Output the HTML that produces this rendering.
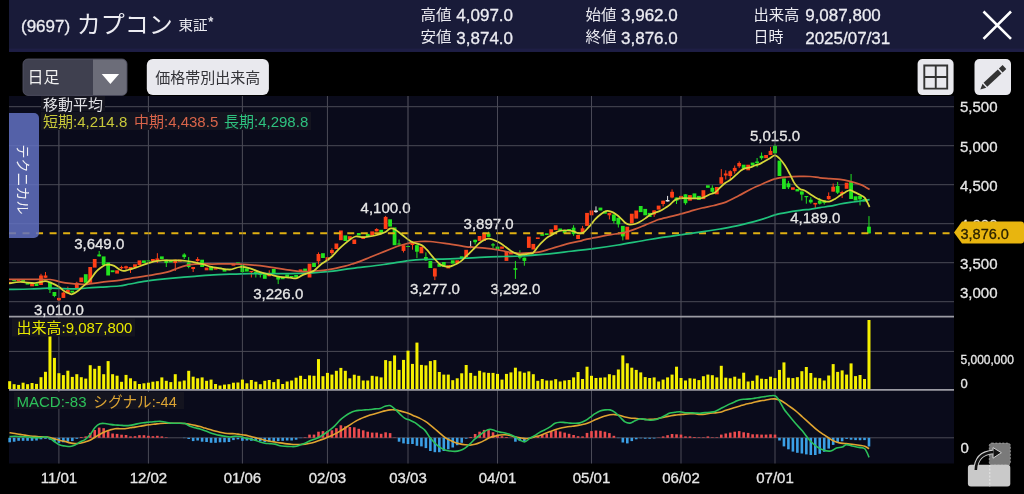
<!DOCTYPE html>
<html lang="ja"><head><meta charset="utf-8"><title>カプコン チャート</title>
<style>
*{margin:0;padding:0;box-sizing:border-box}
html,body{width:1024px;height:494px;overflow:hidden;background:#000}
body{position:relative;font-family:"Liberation Sans", "Noto Sans CJK JP", sans-serif;color:#e8e8ee}
</style></head>
<body>
<svg width="1024" height="494" viewBox="0 0 1024 494" style="position:absolute;left:0;top:0">
<rect x="9" y="96" width="945" height="367.5" fill="#0a0b1b"/>
<g stroke="#4a4a56" stroke-width="1">
<line x1="9" y1="106.7" x2="954" y2="106.7"/>
<line x1="9" y1="145.7" x2="954" y2="145.7"/>
<line x1="9" y1="184.7" x2="954" y2="184.7"/>
<line x1="9" y1="223.7" x2="954" y2="223.7"/>
<line x1="9" y1="262.7" x2="954" y2="262.7"/>
<line x1="9" y1="301.7" x2="954" y2="301.7"/>
<line x1="9" y1="351.4" x2="954" y2="351.4"/>
<line x1="9" y1="437.8" x2="954" y2="437.8"/>
<line x1="58.90" y1="96" x2="58.90" y2="463.5"/>
<line x1="148.41" y1="96" x2="148.41" y2="463.5"/>
<line x1="242.40" y1="96" x2="242.40" y2="463.5"/>
<line x1="327.44" y1="96" x2="327.44" y2="463.5"/>
<line x1="408.00" y1="96" x2="408.00" y2="463.5"/>
<line x1="497.51" y1="96" x2="497.51" y2="463.5"/>
<line x1="591.50" y1="96" x2="591.50" y2="463.5"/>
<line x1="681.01" y1="96" x2="681.01" y2="463.5"/>
<line x1="775.00" y1="96" x2="775.00" y2="463.5"/>
</g>
<line x1="9" y1="316.6" x2="954" y2="316.6" stroke="#9c9ca4" stroke-width="1.8"/>
<line x1="9" y1="389.8" x2="954" y2="389.8" stroke="#9c9ca4" stroke-width="1.8"/>
<defs><clipPath id="cp"><rect x="9" y="96" width="945" height="220"/></clipPath><clipPath id="cm"><rect x="9" y="391" width="945" height="72.5"/></clipPath></defs>
<rect x="8.17" y="381.20" width="3.0" height="7.80" fill="#f5f000"/>
<rect x="12.64" y="384.20" width="3.0" height="4.80" fill="#f5f000"/>
<rect x="17.12" y="384.90" width="3.0" height="4.10" fill="#f5f000"/>
<rect x="21.60" y="382.70" width="3.0" height="6.30" fill="#f5f000"/>
<rect x="26.07" y="384.20" width="3.0" height="4.80" fill="#f5f000"/>
<rect x="30.55" y="383.00" width="3.0" height="6.00" fill="#f5f000"/>
<rect x="35.02" y="383.90" width="3.0" height="5.10" fill="#f5f000"/>
<rect x="39.50" y="377.20" width="3.0" height="11.80" fill="#f5f000"/>
<rect x="43.97" y="371.80" width="3.0" height="17.20" fill="#f5f000"/>
<rect x="48.45" y="334.60" width="3.0" height="54.40" fill="#f5f000"/>
<rect x="52.92" y="357.90" width="3.0" height="31.10" fill="#f5f000"/>
<rect x="57.40" y="373.20" width="3.0" height="15.80" fill="#f5f000"/>
<rect x="61.88" y="375.10" width="3.0" height="13.90" fill="#f5f000"/>
<rect x="66.35" y="370.70" width="3.0" height="18.30" fill="#f5f000"/>
<rect x="70.83" y="376.90" width="3.0" height="12.10" fill="#f5f000"/>
<rect x="75.30" y="374.20" width="3.0" height="14.80" fill="#f5f000"/>
<rect x="79.78" y="377.20" width="3.0" height="11.80" fill="#f5f000"/>
<rect x="84.25" y="378.60" width="3.0" height="10.40" fill="#f5f000"/>
<rect x="88.73" y="365.20" width="3.0" height="23.80" fill="#f5f000"/>
<rect x="93.20" y="368.80" width="3.0" height="20.20" fill="#f5f000"/>
<rect x="97.68" y="365.90" width="3.0" height="23.10" fill="#f5f000"/>
<rect x="102.16" y="374.20" width="3.0" height="14.80" fill="#f5f000"/>
<rect x="106.63" y="361.10" width="3.0" height="27.90" fill="#f5f000"/>
<rect x="111.11" y="374.20" width="3.0" height="14.80" fill="#f5f000"/>
<rect x="115.58" y="375.70" width="3.0" height="13.30" fill="#f5f000"/>
<rect x="120.06" y="381.80" width="3.0" height="7.20" fill="#f5f000"/>
<rect x="124.53" y="374.90" width="3.0" height="14.10" fill="#f5f000"/>
<rect x="129.01" y="378.30" width="3.0" height="10.70" fill="#f5f000"/>
<rect x="133.49" y="381.20" width="3.0" height="7.80" fill="#f5f000"/>
<rect x="137.96" y="384.00" width="3.0" height="5.00" fill="#f5f000"/>
<rect x="142.44" y="383.30" width="3.0" height="5.70" fill="#f5f000"/>
<rect x="146.91" y="382.70" width="3.0" height="6.30" fill="#f5f000"/>
<rect x="151.39" y="381.70" width="3.0" height="7.30" fill="#f5f000"/>
<rect x="155.86" y="381.20" width="3.0" height="7.80" fill="#f5f000"/>
<rect x="160.34" y="377.40" width="3.0" height="11.60" fill="#f5f000"/>
<rect x="164.81" y="380.80" width="3.0" height="8.20" fill="#f5f000"/>
<rect x="169.29" y="382.10" width="3.0" height="6.90" fill="#f5f000"/>
<rect x="173.77" y="374.20" width="3.0" height="14.80" fill="#f5f000"/>
<rect x="178.24" y="381.50" width="3.0" height="7.50" fill="#f5f000"/>
<rect x="182.72" y="380.50" width="3.0" height="8.50" fill="#f5f000"/>
<rect x="187.19" y="370.80" width="3.0" height="18.20" fill="#f5f000"/>
<rect x="191.67" y="376.70" width="3.0" height="12.30" fill="#f5f000"/>
<rect x="196.14" y="378.30" width="3.0" height="10.70" fill="#f5f000"/>
<rect x="200.62" y="377.40" width="3.0" height="11.60" fill="#f5f000"/>
<rect x="205.09" y="380.80" width="3.0" height="8.20" fill="#f5f000"/>
<rect x="209.57" y="379.60" width="3.0" height="9.40" fill="#f5f000"/>
<rect x="214.05" y="384.00" width="3.0" height="5.00" fill="#f5f000"/>
<rect x="218.52" y="385.50" width="3.0" height="3.50" fill="#f5f000"/>
<rect x="223.00" y="384.60" width="3.0" height="4.40" fill="#f5f000"/>
<rect x="227.47" y="384.20" width="3.0" height="4.80" fill="#f5f000"/>
<rect x="231.95" y="382.70" width="3.0" height="6.30" fill="#f5f000"/>
<rect x="236.42" y="382.50" width="3.0" height="6.50" fill="#f5f000"/>
<rect x="240.90" y="379.60" width="3.0" height="9.40" fill="#f5f000"/>
<rect x="245.38" y="383.30" width="3.0" height="5.70" fill="#f5f000"/>
<rect x="249.85" y="380.00" width="3.0" height="9.00" fill="#f5f000"/>
<rect x="254.33" y="381.70" width="3.0" height="7.30" fill="#f5f000"/>
<rect x="258.80" y="384.20" width="3.0" height="4.80" fill="#f5f000"/>
<rect x="263.28" y="380.80" width="3.0" height="8.20" fill="#f5f000"/>
<rect x="267.75" y="380.00" width="3.0" height="9.00" fill="#f5f000"/>
<rect x="272.23" y="382.10" width="3.0" height="6.90" fill="#f5f000"/>
<rect x="276.70" y="379.20" width="3.0" height="9.80" fill="#f5f000"/>
<rect x="281.18" y="384.00" width="3.0" height="5.00" fill="#f5f000"/>
<rect x="285.66" y="381.50" width="3.0" height="7.50" fill="#f5f000"/>
<rect x="290.13" y="380.50" width="3.0" height="8.50" fill="#f5f000"/>
<rect x="294.61" y="377.70" width="3.0" height="11.30" fill="#f5f000"/>
<rect x="299.08" y="375.80" width="3.0" height="13.20" fill="#f5f000"/>
<rect x="303.56" y="379.00" width="3.0" height="10.00" fill="#f5f000"/>
<rect x="308.03" y="375.40" width="3.0" height="13.60" fill="#f5f000"/>
<rect x="312.51" y="375.80" width="3.0" height="13.20" fill="#f5f000"/>
<rect x="316.98" y="359.10" width="3.0" height="29.90" fill="#f5f000"/>
<rect x="321.46" y="376.20" width="3.0" height="12.80" fill="#f5f000"/>
<rect x="325.94" y="372.90" width="3.0" height="16.10" fill="#f5f000"/>
<rect x="330.41" y="374.60" width="3.0" height="14.40" fill="#f5f000"/>
<rect x="334.89" y="370.80" width="3.0" height="18.20" fill="#f5f000"/>
<rect x="339.36" y="367.90" width="3.0" height="21.10" fill="#f5f000"/>
<rect x="343.84" y="370.80" width="3.0" height="18.20" fill="#f5f000"/>
<rect x="348.31" y="378.30" width="3.0" height="10.70" fill="#f5f000"/>
<rect x="352.79" y="374.70" width="3.0" height="14.30" fill="#f5f000"/>
<rect x="357.27" y="375.80" width="3.0" height="13.20" fill="#f5f000"/>
<rect x="361.74" y="380.50" width="3.0" height="8.50" fill="#f5f000"/>
<rect x="366.22" y="380.50" width="3.0" height="8.50" fill="#f5f000"/>
<rect x="370.69" y="375.80" width="3.0" height="13.20" fill="#f5f000"/>
<rect x="375.17" y="376.40" width="3.0" height="12.60" fill="#f5f000"/>
<rect x="379.64" y="377.40" width="3.0" height="11.60" fill="#f5f000"/>
<rect x="384.12" y="360.10" width="3.0" height="28.90" fill="#f5f000"/>
<rect x="388.59" y="361.10" width="3.0" height="27.90" fill="#f5f000"/>
<rect x="393.07" y="355.40" width="3.0" height="33.60" fill="#f5f000"/>
<rect x="397.55" y="369.90" width="3.0" height="19.10" fill="#f5f000"/>
<rect x="402.02" y="359.90" width="3.0" height="29.10" fill="#f5f000"/>
<rect x="406.50" y="350.70" width="3.0" height="38.30" fill="#f5f000"/>
<rect x="410.97" y="363.90" width="3.0" height="25.10" fill="#f5f000"/>
<rect x="415.45" y="342.60" width="3.0" height="46.40" fill="#f5f000"/>
<rect x="419.92" y="364.90" width="3.0" height="24.10" fill="#f5f000"/>
<rect x="424.40" y="365.40" width="3.0" height="23.60" fill="#f5f000"/>
<rect x="428.87" y="361.10" width="3.0" height="27.90" fill="#f5f000"/>
<rect x="433.35" y="360.10" width="3.0" height="28.90" fill="#f5f000"/>
<rect x="437.83" y="372.00" width="3.0" height="17.00" fill="#f5f000"/>
<rect x="442.30" y="374.60" width="3.0" height="14.40" fill="#f5f000"/>
<rect x="446.78" y="374.60" width="3.0" height="14.40" fill="#f5f000"/>
<rect x="451.25" y="380.20" width="3.0" height="8.80" fill="#f5f000"/>
<rect x="455.73" y="378.30" width="3.0" height="10.70" fill="#f5f000"/>
<rect x="460.20" y="373.30" width="3.0" height="15.70" fill="#f5f000"/>
<rect x="464.68" y="365.00" width="3.0" height="24.00" fill="#f5f000"/>
<rect x="469.16" y="372.90" width="3.0" height="16.10" fill="#f5f000"/>
<rect x="473.63" y="375.80" width="3.0" height="13.20" fill="#f5f000"/>
<rect x="478.11" y="370.80" width="3.0" height="18.20" fill="#f5f000"/>
<rect x="482.58" y="372.40" width="3.0" height="16.60" fill="#f5f000"/>
<rect x="487.06" y="372.90" width="3.0" height="16.10" fill="#f5f000"/>
<rect x="491.53" y="372.90" width="3.0" height="16.10" fill="#f5f000"/>
<rect x="496.01" y="373.90" width="3.0" height="15.10" fill="#f5f000"/>
<rect x="500.48" y="379.60" width="3.0" height="9.40" fill="#f5f000"/>
<rect x="504.96" y="373.90" width="3.0" height="15.10" fill="#f5f000"/>
<rect x="509.44" y="372.40" width="3.0" height="16.60" fill="#f5f000"/>
<rect x="513.91" y="367.70" width="3.0" height="21.30" fill="#f5f000"/>
<rect x="518.39" y="371.40" width="3.0" height="17.60" fill="#f5f000"/>
<rect x="522.86" y="372.70" width="3.0" height="16.30" fill="#f5f000"/>
<rect x="527.34" y="371.40" width="3.0" height="17.60" fill="#f5f000"/>
<rect x="531.81" y="374.20" width="3.0" height="14.80" fill="#f5f000"/>
<rect x="536.29" y="380.80" width="3.0" height="8.20" fill="#f5f000"/>
<rect x="540.76" y="379.00" width="3.0" height="10.00" fill="#f5f000"/>
<rect x="545.24" y="380.50" width="3.0" height="8.50" fill="#f5f000"/>
<rect x="549.72" y="380.50" width="3.0" height="8.50" fill="#f5f000"/>
<rect x="554.19" y="379.20" width="3.0" height="9.80" fill="#f5f000"/>
<rect x="558.67" y="381.50" width="3.0" height="7.50" fill="#f5f000"/>
<rect x="563.14" y="380.50" width="3.0" height="8.50" fill="#f5f000"/>
<rect x="567.62" y="380.00" width="3.0" height="9.00" fill="#f5f000"/>
<rect x="572.09" y="377.40" width="3.0" height="11.60" fill="#f5f000"/>
<rect x="576.57" y="372.00" width="3.0" height="17.00" fill="#f5f000"/>
<rect x="581.05" y="379.00" width="3.0" height="10.00" fill="#f5f000"/>
<rect x="585.52" y="366.70" width="3.0" height="22.30" fill="#f5f000"/>
<rect x="590.00" y="375.80" width="3.0" height="13.20" fill="#f5f000"/>
<rect x="594.47" y="378.00" width="3.0" height="11.00" fill="#f5f000"/>
<rect x="598.95" y="377.70" width="3.0" height="11.30" fill="#f5f000"/>
<rect x="603.42" y="377.40" width="3.0" height="11.60" fill="#f5f000"/>
<rect x="607.90" y="374.20" width="3.0" height="14.80" fill="#f5f000"/>
<rect x="612.37" y="375.20" width="3.0" height="13.80" fill="#f5f000"/>
<rect x="616.85" y="369.50" width="3.0" height="19.50" fill="#f5f000"/>
<rect x="621.33" y="355.40" width="3.0" height="33.60" fill="#f5f000"/>
<rect x="625.80" y="363.30" width="3.0" height="25.70" fill="#f5f000"/>
<rect x="630.28" y="367.70" width="3.0" height="21.30" fill="#f5f000"/>
<rect x="634.75" y="369.90" width="3.0" height="19.10" fill="#f5f000"/>
<rect x="639.23" y="372.40" width="3.0" height="16.60" fill="#f5f000"/>
<rect x="643.70" y="377.10" width="3.0" height="11.90" fill="#f5f000"/>
<rect x="648.18" y="378.00" width="3.0" height="11.00" fill="#f5f000"/>
<rect x="652.65" y="377.40" width="3.0" height="11.60" fill="#f5f000"/>
<rect x="657.13" y="381.50" width="3.0" height="7.50" fill="#f5f000"/>
<rect x="661.61" y="379.60" width="3.0" height="9.40" fill="#f5f000"/>
<rect x="666.08" y="377.40" width="3.0" height="11.60" fill="#f5f000"/>
<rect x="670.56" y="374.60" width="3.0" height="14.40" fill="#f5f000"/>
<rect x="675.03" y="366.70" width="3.0" height="22.30" fill="#f5f000"/>
<rect x="679.51" y="378.00" width="3.0" height="11.00" fill="#f5f000"/>
<rect x="683.98" y="380.50" width="3.0" height="8.50" fill="#f5f000"/>
<rect x="688.46" y="378.30" width="3.0" height="10.70" fill="#f5f000"/>
<rect x="692.94" y="378.70" width="3.0" height="10.30" fill="#f5f000"/>
<rect x="697.41" y="380.10" width="3.0" height="8.90" fill="#f5f000"/>
<rect x="701.89" y="376.20" width="3.0" height="12.80" fill="#f5f000"/>
<rect x="706.36" y="374.60" width="3.0" height="14.40" fill="#f5f000"/>
<rect x="710.84" y="375.20" width="3.0" height="13.80" fill="#f5f000"/>
<rect x="715.31" y="377.40" width="3.0" height="11.60" fill="#f5f000"/>
<rect x="719.79" y="365.80" width="3.0" height="23.20" fill="#f5f000"/>
<rect x="724.26" y="377.70" width="3.0" height="11.30" fill="#f5f000"/>
<rect x="728.74" y="378.30" width="3.0" height="10.70" fill="#f5f000"/>
<rect x="733.22" y="376.70" width="3.0" height="12.30" fill="#f5f000"/>
<rect x="737.69" y="378.70" width="3.0" height="10.30" fill="#f5f000"/>
<rect x="742.17" y="372.70" width="3.0" height="16.30" fill="#f5f000"/>
<rect x="746.64" y="381.50" width="3.0" height="7.50" fill="#f5f000"/>
<rect x="751.12" y="380.80" width="3.0" height="8.20" fill="#f5f000"/>
<rect x="755.59" y="375.40" width="3.0" height="13.60" fill="#f5f000"/>
<rect x="760.07" y="378.70" width="3.0" height="10.30" fill="#f5f000"/>
<rect x="764.54" y="379.00" width="3.0" height="10.00" fill="#f5f000"/>
<rect x="769.02" y="376.70" width="3.0" height="12.30" fill="#f5f000"/>
<rect x="773.50" y="378.10" width="3.0" height="10.90" fill="#f5f000"/>
<rect x="777.97" y="369.90" width="3.0" height="19.10" fill="#f5f000"/>
<rect x="782.45" y="362.40" width="3.0" height="26.60" fill="#f5f000"/>
<rect x="786.92" y="377.70" width="3.0" height="11.30" fill="#f5f000"/>
<rect x="791.40" y="378.10" width="3.0" height="10.90" fill="#f5f000"/>
<rect x="795.87" y="377.20" width="3.0" height="11.80" fill="#f5f000"/>
<rect x="800.35" y="371.20" width="3.0" height="17.80" fill="#f5f000"/>
<rect x="804.83" y="367.00" width="3.0" height="22.00" fill="#f5f000"/>
<rect x="809.30" y="373.00" width="3.0" height="16.00" fill="#f5f000"/>
<rect x="813.78" y="377.70" width="3.0" height="11.30" fill="#f5f000"/>
<rect x="818.25" y="378.20" width="3.0" height="10.80" fill="#f5f000"/>
<rect x="822.73" y="380.50" width="3.0" height="8.50" fill="#f5f000"/>
<rect x="827.20" y="375.50" width="3.0" height="13.50" fill="#f5f000"/>
<rect x="831.68" y="364.10" width="3.0" height="24.90" fill="#f5f000"/>
<rect x="836.15" y="371.90" width="3.0" height="17.10" fill="#f5f000"/>
<rect x="840.63" y="370.40" width="3.0" height="18.60" fill="#f5f000"/>
<rect x="845.11" y="374.60" width="3.0" height="14.40" fill="#f5f000"/>
<rect x="849.58" y="363.40" width="3.0" height="25.60" fill="#f5f000"/>
<rect x="854.06" y="376.10" width="3.0" height="12.90" fill="#f5f000"/>
<rect x="858.53" y="375.00" width="3.0" height="14.00" fill="#f5f000"/>
<rect x="863.01" y="379.00" width="3.0" height="10.00" fill="#f5f000"/>
<rect x="867.48" y="320.00" width="3.0" height="69.00" fill="#f5f000"/>
<rect x="8.37" y="437.80" width="2.6" height="4.50" fill="#3ba0e6"/>
<rect x="12.84" y="437.80" width="2.6" height="3.90" fill="#3ba0e6"/>
<rect x="17.32" y="437.80" width="2.6" height="3.00" fill="#3ba0e6"/>
<rect x="21.80" y="437.80" width="2.6" height="3.00" fill="#3ba0e6"/>
<rect x="26.27" y="437.80" width="2.6" height="3.00" fill="#3ba0e6"/>
<rect x="30.75" y="437.80" width="2.6" height="3.00" fill="#3ba0e6"/>
<rect x="35.22" y="437.80" width="2.6" height="2.70" fill="#3ba0e6"/>
<rect x="39.70" y="437.80" width="2.6" height="1.50" fill="#3ba0e6"/>
<rect x="44.17" y="437.80" width="2.6" height="1.00" fill="#3ba0e6"/>
<rect x="48.65" y="437.80" width="2.6" height="1.90" fill="#3ba0e6"/>
<rect x="53.12" y="437.80" width="2.6" height="3.90" fill="#3ba0e6"/>
<rect x="57.60" y="437.80" width="2.6" height="5.00" fill="#3ba0e6"/>
<rect x="62.08" y="437.80" width="2.6" height="4.50" fill="#3ba0e6"/>
<rect x="66.55" y="437.80" width="2.6" height="3.90" fill="#3ba0e6"/>
<rect x="71.03" y="437.80" width="2.6" height="3.30" fill="#3ba0e6"/>
<rect x="75.50" y="437.80" width="2.6" height="1.00" fill="#3ba0e6"/>
<rect x="79.98" y="437.00" width="2.6" height="0.80" fill="#ec4b4e"/>
<rect x="84.45" y="436.40" width="2.6" height="1.40" fill="#ec4b4e"/>
<rect x="88.93" y="432.90" width="2.6" height="4.90" fill="#ec4b4e"/>
<rect x="93.40" y="430.00" width="2.6" height="7.80" fill="#ec4b4e"/>
<rect x="97.88" y="427.60" width="2.6" height="10.20" fill="#ec4b4e"/>
<rect x="102.36" y="428.20" width="2.6" height="9.60" fill="#ec4b4e"/>
<rect x="106.83" y="431.10" width="2.6" height="6.70" fill="#ec4b4e"/>
<rect x="111.31" y="433.50" width="2.6" height="4.30" fill="#ec4b4e"/>
<rect x="115.78" y="433.90" width="2.6" height="3.90" fill="#ec4b4e"/>
<rect x="120.26" y="434.70" width="2.6" height="3.10" fill="#ec4b4e"/>
<rect x="124.73" y="435.00" width="2.6" height="2.80" fill="#ec4b4e"/>
<rect x="129.21" y="436.40" width="2.6" height="1.40" fill="#ec4b4e"/>
<rect x="133.69" y="436.20" width="2.6" height="1.60" fill="#ec4b4e"/>
<rect x="138.16" y="435.20" width="2.6" height="2.60" fill="#ec4b4e"/>
<rect x="142.64" y="435.20" width="2.6" height="2.60" fill="#ec4b4e"/>
<rect x="147.11" y="435.80" width="2.6" height="2.00" fill="#ec4b4e"/>
<rect x="151.59" y="436.20" width="2.6" height="1.60" fill="#ec4b4e"/>
<rect x="156.06" y="435.80" width="2.6" height="2.00" fill="#ec4b4e"/>
<rect x="160.54" y="436.40" width="2.6" height="1.40" fill="#ec4b4e"/>
<rect x="165.01" y="437.30" width="2.6" height="0.50" fill="#ec4b4e"/>
<rect x="182.92" y="437.80" width="2.6" height="0.30" fill="#3ba0e6"/>
<rect x="187.39" y="437.80" width="2.6" height="1.20" fill="#3ba0e6"/>
<rect x="191.87" y="437.80" width="2.6" height="3.30" fill="#3ba0e6"/>
<rect x="196.34" y="437.80" width="2.6" height="2.70" fill="#3ba0e6"/>
<rect x="200.82" y="437.80" width="2.6" height="3.90" fill="#3ba0e6"/>
<rect x="205.29" y="437.80" width="2.6" height="4.20" fill="#3ba0e6"/>
<rect x="209.77" y="437.80" width="2.6" height="5.00" fill="#3ba0e6"/>
<rect x="214.25" y="437.80" width="2.6" height="5.00" fill="#3ba0e6"/>
<rect x="218.72" y="437.80" width="2.6" height="4.50" fill="#3ba0e6"/>
<rect x="223.20" y="437.80" width="2.6" height="4.50" fill="#3ba0e6"/>
<rect x="227.67" y="437.80" width="2.6" height="4.20" fill="#3ba0e6"/>
<rect x="232.15" y="437.80" width="2.6" height="2.30" fill="#3ba0e6"/>
<rect x="236.62" y="437.80" width="2.6" height="1.50" fill="#3ba0e6"/>
<rect x="241.10" y="437.80" width="2.6" height="3.00" fill="#3ba0e6"/>
<rect x="245.58" y="437.80" width="2.6" height="2.70" fill="#3ba0e6"/>
<rect x="250.05" y="437.80" width="2.6" height="3.00" fill="#3ba0e6"/>
<rect x="254.53" y="437.80" width="2.6" height="3.00" fill="#3ba0e6"/>
<rect x="259.00" y="437.80" width="2.6" height="3.30" fill="#3ba0e6"/>
<rect x="263.48" y="437.80" width="2.6" height="4.20" fill="#3ba0e6"/>
<rect x="267.95" y="437.80" width="2.6" height="3.90" fill="#3ba0e6"/>
<rect x="272.43" y="437.80" width="2.6" height="3.30" fill="#3ba0e6"/>
<rect x="276.90" y="437.80" width="2.6" height="3.30" fill="#3ba0e6"/>
<rect x="281.38" y="437.80" width="2.6" height="3.00" fill="#3ba0e6"/>
<rect x="285.86" y="437.80" width="2.6" height="2.70" fill="#3ba0e6"/>
<rect x="290.33" y="437.80" width="2.6" height="2.70" fill="#3ba0e6"/>
<rect x="294.81" y="437.80" width="2.6" height="1.90" fill="#3ba0e6"/>
<rect x="299.28" y="437.80" width="2.6" height="0.30" fill="#3ba0e6"/>
<rect x="303.76" y="437.30" width="2.6" height="0.50" fill="#ec4b4e"/>
<rect x="308.23" y="434.60" width="2.6" height="3.20" fill="#ec4b4e"/>
<rect x="312.71" y="434.60" width="2.6" height="3.20" fill="#ec4b4e"/>
<rect x="317.18" y="431.70" width="2.6" height="6.10" fill="#ec4b4e"/>
<rect x="321.66" y="431.10" width="2.6" height="6.70" fill="#ec4b4e"/>
<rect x="326.14" y="431.10" width="2.6" height="6.70" fill="#ec4b4e"/>
<rect x="330.61" y="430.30" width="2.6" height="7.50" fill="#ec4b4e"/>
<rect x="335.09" y="428.20" width="2.6" height="9.60" fill="#ec4b4e"/>
<rect x="339.56" y="425.30" width="2.6" height="12.50" fill="#ec4b4e"/>
<rect x="344.04" y="426.40" width="2.6" height="11.40" fill="#ec4b4e"/>
<rect x="348.51" y="427.00" width="2.6" height="10.80" fill="#ec4b4e"/>
<rect x="352.99" y="427.30" width="2.6" height="10.50" fill="#ec4b4e"/>
<rect x="357.47" y="428.80" width="2.6" height="9.00" fill="#ec4b4e"/>
<rect x="361.94" y="430.30" width="2.6" height="7.50" fill="#ec4b4e"/>
<rect x="366.42" y="431.70" width="2.6" height="6.10" fill="#ec4b4e"/>
<rect x="370.89" y="432.60" width="2.6" height="5.20" fill="#ec4b4e"/>
<rect x="375.37" y="432.60" width="2.6" height="5.20" fill="#ec4b4e"/>
<rect x="379.84" y="433.80" width="2.6" height="4.00" fill="#ec4b4e"/>
<rect x="384.32" y="432.30" width="2.6" height="5.50" fill="#ec4b4e"/>
<rect x="388.79" y="433.10" width="2.6" height="4.70" fill="#ec4b4e"/>
<rect x="393.27" y="437.50" width="2.6" height="0.30" fill="#ec4b4e"/>
<rect x="397.75" y="437.80" width="2.6" height="3.90" fill="#3ba0e6"/>
<rect x="402.22" y="437.80" width="2.6" height="5.60" fill="#3ba0e6"/>
<rect x="406.70" y="437.80" width="2.6" height="6.20" fill="#3ba0e6"/>
<rect x="411.17" y="437.80" width="2.6" height="6.20" fill="#3ba0e6"/>
<rect x="415.65" y="437.80" width="2.6" height="8.00" fill="#3ba0e6"/>
<rect x="420.12" y="437.80" width="2.6" height="8.60" fill="#3ba0e6"/>
<rect x="424.60" y="437.80" width="2.6" height="10.30" fill="#3ba0e6"/>
<rect x="429.07" y="437.80" width="2.6" height="13.20" fill="#3ba0e6"/>
<rect x="433.55" y="437.80" width="2.6" height="14.40" fill="#3ba0e6"/>
<rect x="438.03" y="437.80" width="2.6" height="14.40" fill="#3ba0e6"/>
<rect x="442.50" y="437.80" width="2.6" height="13.20" fill="#3ba0e6"/>
<rect x="446.98" y="437.80" width="2.6" height="11.50" fill="#3ba0e6"/>
<rect x="451.45" y="437.80" width="2.6" height="9.70" fill="#3ba0e6"/>
<rect x="455.93" y="437.80" width="2.6" height="7.40" fill="#3ba0e6"/>
<rect x="460.40" y="437.80" width="2.6" height="5.00" fill="#3ba0e6"/>
<rect x="464.88" y="437.80" width="2.6" height="0.90" fill="#3ba0e6"/>
<rect x="469.36" y="437.00" width="2.6" height="0.80" fill="#ec4b4e"/>
<rect x="473.83" y="434.00" width="2.6" height="3.80" fill="#ec4b4e"/>
<rect x="478.31" y="431.70" width="2.6" height="6.10" fill="#ec4b4e"/>
<rect x="482.78" y="429.90" width="2.6" height="7.90" fill="#ec4b4e"/>
<rect x="487.26" y="429.40" width="2.6" height="8.40" fill="#ec4b4e"/>
<rect x="491.73" y="432.30" width="2.6" height="5.50" fill="#ec4b4e"/>
<rect x="496.21" y="434.60" width="2.6" height="3.20" fill="#ec4b4e"/>
<rect x="500.68" y="436.20" width="2.6" height="1.60" fill="#ec4b4e"/>
<rect x="505.16" y="437.00" width="2.6" height="0.80" fill="#ec4b4e"/>
<rect x="514.11" y="437.80" width="2.6" height="3.90" fill="#3ba0e6"/>
<rect x="518.59" y="437.80" width="2.6" height="3.30" fill="#3ba0e6"/>
<rect x="523.06" y="437.80" width="2.6" height="3.90" fill="#3ba0e6"/>
<rect x="527.54" y="437.80" width="2.6" height="0.70" fill="#3ba0e6"/>
<rect x="532.01" y="437.50" width="2.6" height="0.30" fill="#ec4b4e"/>
<rect x="536.49" y="436.40" width="2.6" height="1.40" fill="#ec4b4e"/>
<rect x="540.96" y="434.60" width="2.6" height="3.20" fill="#ec4b4e"/>
<rect x="545.44" y="433.80" width="2.6" height="4.00" fill="#ec4b4e"/>
<rect x="549.92" y="431.70" width="2.6" height="6.10" fill="#ec4b4e"/>
<rect x="554.39" y="430.30" width="2.6" height="7.50" fill="#ec4b4e"/>
<rect x="558.87" y="431.50" width="2.6" height="6.30" fill="#ec4b4e"/>
<rect x="563.34" y="432.60" width="2.6" height="5.20" fill="#ec4b4e"/>
<rect x="567.82" y="433.80" width="2.6" height="4.00" fill="#ec4b4e"/>
<rect x="572.29" y="435.00" width="2.6" height="2.80" fill="#ec4b4e"/>
<rect x="576.77" y="436.20" width="2.6" height="1.60" fill="#ec4b4e"/>
<rect x="581.25" y="436.40" width="2.6" height="1.40" fill="#ec4b4e"/>
<rect x="585.72" y="432.90" width="2.6" height="4.90" fill="#ec4b4e"/>
<rect x="590.20" y="431.10" width="2.6" height="6.70" fill="#ec4b4e"/>
<rect x="594.67" y="430.50" width="2.6" height="7.30" fill="#ec4b4e"/>
<rect x="599.15" y="430.80" width="2.6" height="7.00" fill="#ec4b4e"/>
<rect x="603.62" y="431.70" width="2.6" height="6.10" fill="#ec4b4e"/>
<rect x="608.10" y="433.10" width="2.6" height="4.70" fill="#ec4b4e"/>
<rect x="612.57" y="435.80" width="2.6" height="2.00" fill="#ec4b4e"/>
<rect x="617.05" y="437.80" width="2.6" height="0.30" fill="#3ba0e6"/>
<rect x="621.53" y="437.80" width="2.6" height="4.70" fill="#3ba0e6"/>
<rect x="626.00" y="437.80" width="2.6" height="5.60" fill="#3ba0e6"/>
<rect x="630.48" y="437.80" width="2.6" height="3.30" fill="#3ba0e6"/>
<rect x="634.95" y="437.80" width="2.6" height="1.50" fill="#3ba0e6"/>
<rect x="639.43" y="437.80" width="2.6" height="0.50" fill="#3ba0e6"/>
<rect x="643.90" y="437.80" width="2.6" height="0.90" fill="#3ba0e6"/>
<rect x="648.38" y="437.80" width="2.6" height="0.90" fill="#3ba0e6"/>
<rect x="652.85" y="437.80" width="2.6" height="0.70" fill="#3ba0e6"/>
<rect x="657.33" y="437.50" width="2.6" height="0.30" fill="#ec4b4e"/>
<rect x="661.81" y="436.40" width="2.6" height="1.40" fill="#ec4b4e"/>
<rect x="666.28" y="435.20" width="2.6" height="2.60" fill="#ec4b4e"/>
<rect x="670.76" y="434.00" width="2.6" height="3.80" fill="#ec4b4e"/>
<rect x="675.23" y="434.30" width="2.6" height="3.50" fill="#ec4b4e"/>
<rect x="679.71" y="434.60" width="2.6" height="3.20" fill="#ec4b4e"/>
<rect x="684.18" y="436.40" width="2.6" height="1.40" fill="#ec4b4e"/>
<rect x="688.66" y="436.40" width="2.6" height="1.40" fill="#ec4b4e"/>
<rect x="693.14" y="437.00" width="2.6" height="0.80" fill="#ec4b4e"/>
<rect x="697.61" y="437.30" width="2.6" height="0.50" fill="#ec4b4e"/>
<rect x="702.09" y="437.30" width="2.6" height="0.50" fill="#ec4b4e"/>
<rect x="706.56" y="436.40" width="2.6" height="1.40" fill="#ec4b4e"/>
<rect x="711.04" y="437.30" width="2.6" height="0.50" fill="#ec4b4e"/>
<rect x="715.51" y="437.30" width="2.6" height="0.50" fill="#ec4b4e"/>
<rect x="719.99" y="434.60" width="2.6" height="3.20" fill="#ec4b4e"/>
<rect x="724.46" y="433.50" width="2.6" height="4.30" fill="#ec4b4e"/>
<rect x="728.94" y="432.60" width="2.6" height="5.20" fill="#ec4b4e"/>
<rect x="733.42" y="431.70" width="2.6" height="6.10" fill="#ec4b4e"/>
<rect x="737.89" y="431.10" width="2.6" height="6.70" fill="#ec4b4e"/>
<rect x="742.37" y="432.30" width="2.6" height="5.50" fill="#ec4b4e"/>
<rect x="746.84" y="432.90" width="2.6" height="4.90" fill="#ec4b4e"/>
<rect x="751.32" y="434.30" width="2.6" height="3.50" fill="#ec4b4e"/>
<rect x="755.79" y="434.30" width="2.6" height="3.50" fill="#ec4b4e"/>
<rect x="760.27" y="434.60" width="2.6" height="3.20" fill="#ec4b4e"/>
<rect x="764.74" y="434.60" width="2.6" height="3.20" fill="#ec4b4e"/>
<rect x="769.22" y="434.30" width="2.6" height="3.50" fill="#ec4b4e"/>
<rect x="773.70" y="434.60" width="2.6" height="3.20" fill="#ec4b4e"/>
<rect x="778.17" y="437.80" width="2.6" height="2.70" fill="#3ba0e6"/>
<rect x="782.65" y="437.80" width="2.6" height="8.60" fill="#3ba0e6"/>
<rect x="787.12" y="437.80" width="2.6" height="11.50" fill="#3ba0e6"/>
<rect x="791.60" y="437.80" width="2.6" height="13.80" fill="#3ba0e6"/>
<rect x="796.07" y="437.80" width="2.6" height="15.00" fill="#3ba0e6"/>
<rect x="800.55" y="437.80" width="2.6" height="15.70" fill="#3ba0e6"/>
<rect x="805.03" y="437.80" width="2.6" height="16.60" fill="#3ba0e6"/>
<rect x="809.50" y="437.80" width="2.6" height="17.20" fill="#3ba0e6"/>
<rect x="813.98" y="437.80" width="2.6" height="17.20" fill="#3ba0e6"/>
<rect x="818.45" y="437.80" width="2.6" height="16.00" fill="#3ba0e6"/>
<rect x="822.93" y="437.80" width="2.6" height="14.00" fill="#3ba0e6"/>
<rect x="827.40" y="437.80" width="2.6" height="10.80" fill="#3ba0e6"/>
<rect x="831.88" y="437.80" width="2.6" height="7.10" fill="#3ba0e6"/>
<rect x="836.35" y="437.80" width="2.6" height="5.10" fill="#3ba0e6"/>
<rect x="840.83" y="437.80" width="2.6" height="3.50" fill="#3ba0e6"/>
<rect x="845.31" y="437.80" width="2.6" height="1.10" fill="#3ba0e6"/>
<rect x="849.78" y="437.80" width="2.6" height="1.90" fill="#3ba0e6"/>
<rect x="854.26" y="437.80" width="2.6" height="2.30" fill="#3ba0e6"/>
<rect x="858.73" y="437.80" width="2.6" height="2.40" fill="#3ba0e6"/>
<rect x="863.21" y="437.80" width="2.6" height="2.30" fill="#3ba0e6"/>
<rect x="867.68" y="437.80" width="2.6" height="8.70" fill="#3ba0e6"/>
<g clip-path="url(#cm)" fill="none" stroke-width="1.6" stroke-linejoin="round">
<path d="M9.50,432.70 C10.42,432.83 13.25,433.22 15.00,433.50 C16.75,433.78 18.33,434.13 20.00,434.40 C21.67,434.67 23.33,434.83 25.00,435.10 C26.67,435.37 28.33,435.80 30.00,436.00 C31.67,436.20 33.33,436.17 35.00,436.30 C36.67,436.43 38.33,436.72 40.00,436.80 C41.67,436.88 43.33,436.67 45.00,436.80 C46.67,436.93 48.33,437.23 50.00,437.60 C51.67,437.97 53.33,438.52 55.00,439.00 C56.67,439.48 58.33,440.10 60.00,440.50 C61.67,440.90 63.33,441.00 65.00,441.40 C66.67,441.80 68.33,442.53 70.00,442.90 C71.67,443.27 73.33,443.53 75.00,443.60 C76.67,443.67 78.33,443.57 80.00,443.30 C81.67,443.03 83.33,442.52 85.00,442.00 C86.67,441.48 88.33,441.00 90.00,440.20 C91.67,439.40 93.33,438.20 95.00,437.20 C96.67,436.20 98.33,435.12 100.00,434.20 C101.67,433.28 103.33,432.42 105.00,431.70 C106.67,430.98 108.33,430.40 110.00,429.90 C111.67,429.40 113.33,428.90 115.00,428.70 C116.67,428.50 118.33,428.70 120.00,428.70 C121.67,428.70 123.33,428.85 125.00,428.70 C126.67,428.55 128.33,428.07 130.00,427.80 C131.67,427.53 133.33,427.35 135.00,427.10 C136.67,426.85 138.33,426.58 140.00,426.30 C141.67,426.02 143.33,425.67 145.00,425.40 C146.67,425.13 148.33,424.92 150.00,424.70 C151.67,424.48 153.33,424.30 155.00,424.10 C156.67,423.90 158.33,423.65 160.00,423.50 C161.67,423.35 163.33,423.25 165.00,423.20 C166.67,423.15 168.33,423.20 170.00,423.20 C171.67,423.20 173.33,423.20 175.00,423.20 C176.67,423.20 178.33,423.15 180.00,423.20 C181.67,423.25 183.33,423.30 185.00,423.50 C186.67,423.70 188.33,424.08 190.00,424.40 C191.67,424.72 193.33,425.03 195.00,425.40 C196.67,425.77 198.33,426.15 200.00,426.60 C201.67,427.05 203.33,427.62 205.00,428.10 C206.67,428.58 208.33,429.00 210.00,429.50 C211.67,430.00 213.33,430.63 215.00,431.10 C216.67,431.57 218.33,431.95 220.00,432.30 C221.67,432.65 223.33,432.98 225.00,433.20 C226.67,433.42 228.33,433.52 230.00,433.60 C231.67,433.68 233.33,433.55 235.00,433.70 C236.67,433.85 238.33,434.27 240.00,434.50 C241.67,434.73 243.33,434.80 245.00,435.10 C246.67,435.40 248.33,435.88 250.00,436.30 C251.67,436.72 253.33,437.18 255.00,437.60 C256.67,438.02 258.33,438.37 260.00,438.80 C261.67,439.23 263.33,439.80 265.00,440.20 C266.67,440.60 268.33,440.90 270.00,441.20 C271.67,441.50 273.33,441.72 275.00,442.00 C276.67,442.28 278.33,442.63 280.00,442.90 C281.67,443.17 283.33,443.40 285.00,443.60 C286.67,443.80 288.33,443.95 290.00,444.10 C291.67,444.25 293.33,444.43 295.00,444.50 C296.67,444.57 298.33,444.57 300.00,444.50 C301.67,444.43 303.33,444.30 305.00,444.10 C306.67,443.90 308.33,443.65 310.00,443.30 C311.67,442.95 313.33,442.52 315.00,442.00 C316.67,441.48 318.33,440.80 320.00,440.20 C321.67,439.60 323.33,439.05 325.00,438.40 C326.67,437.75 328.33,437.05 330.00,436.30 C331.67,435.55 333.33,434.77 335.00,433.90 C336.67,433.03 338.33,432.07 340.00,431.10 C341.67,430.13 343.33,429.15 345.00,428.10 C346.67,427.05 348.33,425.88 350.00,424.80 C351.67,423.72 353.33,422.55 355.00,421.60 C356.67,420.65 358.33,419.87 360.00,419.10 C361.67,418.33 363.33,417.67 365.00,417.00 C366.67,416.33 368.33,415.65 370.00,415.10 C371.67,414.55 373.33,414.17 375.00,413.70 C376.67,413.23 378.33,412.77 380.00,412.30 C381.67,411.83 383.33,411.30 385.00,410.90 C386.67,410.50 388.33,410.07 390.00,409.90 C391.67,409.73 393.33,409.73 395.00,409.90 C396.67,410.07 398.33,410.50 400.00,410.90 C401.67,411.30 403.33,411.77 405.00,412.30 C406.67,412.83 408.33,413.43 410.00,414.10 C411.67,414.77 413.33,415.58 415.00,416.30 C416.67,417.02 418.33,417.58 420.00,418.40 C421.67,419.22 423.33,420.13 425.00,421.20 C426.67,422.27 428.33,423.50 430.00,424.80 C431.67,426.10 433.33,427.58 435.00,429.00 C436.67,430.42 438.33,431.88 440.00,433.30 C441.67,434.72 443.33,436.33 445.00,437.50 C446.67,438.67 448.33,439.47 450.00,440.30 C451.67,441.13 453.33,441.90 455.00,442.50 C456.67,443.10 458.33,443.53 460.00,443.90 C461.67,444.27 463.33,444.50 465.00,444.70 C466.67,444.90 468.33,445.17 470.00,445.10 C471.67,445.03 473.33,444.73 475.00,444.30 C476.67,443.87 478.33,443.20 480.00,442.50 C481.67,441.80 483.33,440.93 485.00,440.10 C486.67,439.27 488.33,438.17 490.00,437.50 C491.67,436.83 493.33,436.52 495.00,436.10 C496.67,435.68 498.33,435.23 500.00,435.00 C501.67,434.77 503.33,434.63 505.00,434.70 C506.67,434.77 508.33,435.05 510.00,435.40 C511.67,435.75 513.33,436.40 515.00,436.80 C516.67,437.20 518.33,437.50 520.00,437.80 C521.67,438.10 523.33,438.53 525.00,438.60 C526.67,438.67 528.33,438.50 530.00,438.20 C531.67,437.90 533.33,437.27 535.00,436.80 C536.67,436.33 538.33,435.95 540.00,435.40 C541.67,434.85 543.33,434.13 545.00,433.50 C546.67,432.87 548.33,432.23 550.00,431.60 C551.67,430.97 553.33,430.25 555.00,429.70 C556.67,429.15 558.33,428.70 560.00,428.30 C561.67,427.90 563.33,427.60 565.00,427.30 C566.67,427.00 568.33,426.73 570.00,426.50 C571.67,426.27 573.33,426.15 575.00,425.90 C576.67,425.65 578.33,425.32 580.00,425.00 C581.67,424.68 583.33,424.47 585.00,424.00 C586.67,423.53 588.33,422.90 590.00,422.20 C591.67,421.50 593.33,420.55 595.00,419.80 C596.67,419.05 598.33,418.33 600.00,417.70 C601.67,417.07 603.33,416.48 605.00,416.00 C606.67,415.52 608.33,415.03 610.00,414.80 C611.67,414.57 613.33,414.48 615.00,414.60 C616.67,414.72 618.33,415.10 620.00,415.50 C621.67,415.90 623.33,416.58 625.00,417.00 C626.67,417.42 628.33,417.77 630.00,418.00 C631.67,418.23 633.33,418.27 635.00,418.40 C636.67,418.53 638.33,418.63 640.00,418.80 C641.67,418.97 643.33,419.30 645.00,419.40 C646.67,419.50 648.33,419.45 650.00,419.40 C651.67,419.35 653.33,419.33 655.00,419.10 C656.67,418.87 658.33,418.35 660.00,418.00 C661.67,417.65 663.33,417.33 665.00,417.00 C666.67,416.67 668.33,416.32 670.00,416.00 C671.67,415.68 673.33,415.33 675.00,415.10 C676.67,414.87 678.33,414.77 680.00,414.60 C681.67,414.43 683.33,414.23 685.00,414.10 C686.67,413.97 688.33,413.85 690.00,413.80 C691.67,413.75 693.33,413.68 695.00,413.80 C696.67,413.92 698.33,414.43 700.00,414.50 C701.67,414.57 703.33,414.42 705.00,414.20 C706.67,413.98 708.33,413.42 710.00,413.20 C711.67,412.98 713.33,413.07 715.00,412.90 C716.67,412.73 718.33,412.58 720.00,412.20 C721.67,411.82 723.33,411.13 725.00,410.60 C726.67,410.07 728.33,409.52 730.00,409.00 C731.67,408.48 733.33,408.02 735.00,407.50 C736.67,406.98 738.33,406.42 740.00,405.90 C741.67,405.38 743.33,404.83 745.00,404.40 C746.67,403.97 748.33,403.70 750.00,403.30 C751.67,402.90 753.33,402.40 755.00,402.00 C756.67,401.60 758.33,401.20 760.00,400.90 C761.67,400.60 763.33,400.48 765.00,400.20 C766.67,399.92 768.33,399.42 770.00,399.20 C771.67,398.98 773.12,398.65 775.00,398.90 C776.88,399.15 779.07,399.58 781.30,400.70 C783.53,401.82 786.05,403.95 788.40,405.60 C790.75,407.25 793.05,408.70 795.40,410.60 C797.75,412.50 800.13,414.88 802.50,417.00 C804.87,419.12 807.23,421.18 809.60,423.30 C811.97,425.42 814.33,427.80 816.70,429.70 C819.07,431.60 821.92,433.40 823.80,434.70 C825.68,436.00 826.35,436.45 828.00,437.50 C829.65,438.55 831.80,440.10 833.70,441.00 C835.60,441.90 837.52,442.48 839.40,442.90 C841.28,443.32 842.88,443.27 845.00,443.50 C847.12,443.73 849.73,444.00 852.10,444.30 C854.47,444.60 857.08,444.97 859.20,445.30 C861.32,445.63 863.15,445.72 864.80,446.30 C866.45,446.88 868.38,448.38 869.10,448.80" stroke="#e0a430"/>
<path d="M9.50,436.60 C10.42,436.55 13.25,436.30 15.00,436.30 C16.75,436.30 18.33,436.52 20.00,436.60 C21.67,436.68 23.33,436.70 25.00,436.80 C26.67,436.90 28.33,437.07 30.00,437.20 C31.67,437.33 33.33,437.53 35.00,437.60 C36.67,437.67 38.33,437.73 40.00,437.60 C41.67,437.47 43.33,436.67 45.00,436.80 C46.67,436.93 48.33,437.53 50.00,438.40 C51.67,439.27 53.33,440.88 55.00,442.00 C56.67,443.12 58.33,444.43 60.00,445.10 C61.67,445.77 63.33,445.77 65.00,446.00 C66.67,446.23 68.33,446.65 70.00,446.50 C71.67,446.35 73.33,445.85 75.00,445.10 C76.67,444.35 78.33,442.92 80.00,442.00 C81.67,441.08 83.33,440.80 85.00,439.60 C86.67,438.40 88.33,436.82 90.00,434.80 C91.67,432.78 93.33,429.33 95.00,427.50 C96.67,425.67 98.33,424.47 100.00,423.80 C101.67,423.13 103.33,423.40 105.00,423.50 C106.67,423.60 108.33,424.15 110.00,424.40 C111.67,424.65 113.33,424.87 115.00,425.00 C116.67,425.13 118.33,425.10 120.00,425.20 C121.67,425.30 123.33,425.57 125.00,425.60 C126.67,425.63 128.33,425.60 130.00,425.40 C131.67,425.20 133.33,424.77 135.00,424.40 C136.67,424.03 138.33,423.50 140.00,423.20 C141.67,422.90 143.33,422.80 145.00,422.60 C146.67,422.40 148.33,422.17 150.00,422.00 C151.67,421.83 153.33,421.73 155.00,421.60 C156.67,421.47 158.33,421.13 160.00,421.20 C161.67,421.27 163.33,421.70 165.00,422.00 C166.67,422.30 168.33,422.80 170.00,423.00 C171.67,423.20 173.33,423.17 175.00,423.20 C176.67,423.23 178.33,423.15 180.00,423.20 C181.67,423.25 183.33,422.98 185.00,423.50 C186.67,424.02 188.33,425.58 190.00,426.30 C191.67,427.02 193.33,427.35 195.00,427.80 C196.67,428.25 198.33,428.52 200.00,429.00 C201.67,429.48 203.33,430.08 205.00,430.70 C206.67,431.32 208.33,432.12 210.00,432.70 C211.67,433.28 213.33,433.75 215.00,434.20 C216.67,434.65 218.33,435.05 220.00,435.40 C221.67,435.75 223.33,436.03 225.00,436.30 C226.67,436.57 228.33,437.00 230.00,437.00 C231.67,437.00 233.33,436.38 235.00,436.30 C236.67,436.22 238.33,436.22 240.00,436.50 C241.67,436.78 243.33,437.58 245.00,438.00 C246.67,438.42 248.33,438.63 250.00,439.00 C251.67,439.37 253.33,439.70 255.00,440.20 C256.67,440.70 258.33,441.48 260.00,442.00 C261.67,442.52 263.33,443.03 265.00,443.30 C266.67,443.57 268.33,443.47 270.00,443.60 C271.67,443.73 273.33,443.75 275.00,444.10 C276.67,444.45 278.33,445.33 280.00,445.70 C281.67,446.07 283.33,446.17 285.00,446.30 C286.67,446.43 288.33,446.47 290.00,446.50 C291.67,446.53 293.33,446.73 295.00,446.50 C296.67,446.27 298.33,445.63 300.00,445.10 C301.67,444.57 303.33,444.02 305.00,443.30 C306.67,442.58 308.33,441.52 310.00,440.80 C311.67,440.08 313.33,439.67 315.00,439.00 C316.67,438.33 318.33,437.72 320.00,436.80 C321.67,435.88 323.33,434.65 325.00,433.50 C326.67,432.35 328.33,431.22 330.00,429.90 C331.67,428.58 333.33,427.22 335.00,425.60 C336.67,423.98 338.33,421.77 340.00,420.20 C341.67,418.63 343.33,417.40 345.00,416.20 C346.67,415.00 348.33,413.87 350.00,413.00 C351.67,412.13 353.33,411.45 355.00,411.00 C356.67,410.55 358.33,410.48 360.00,410.30 C361.67,410.12 363.33,410.03 365.00,409.90 C366.67,409.77 368.33,409.67 370.00,409.50 C371.67,409.33 373.33,409.07 375.00,408.90 C376.67,408.73 378.33,408.93 380.00,408.50 C381.67,408.07 383.33,406.78 385.00,406.30 C386.67,405.82 388.33,405.12 390.00,405.60 C391.67,406.08 393.33,407.78 395.00,409.20 C396.67,410.62 398.33,412.57 400.00,414.10 C401.67,415.63 403.33,417.38 405.00,418.40 C406.67,419.42 408.33,419.50 410.00,420.20 C411.67,420.90 413.33,421.55 415.00,422.60 C416.67,423.65 418.33,425.20 420.00,426.50 C421.67,427.80 423.33,428.57 425.00,430.40 C426.67,432.23 428.33,435.37 430.00,437.50 C431.67,439.63 433.33,441.55 435.00,443.20 C436.67,444.85 438.33,446.27 440.00,447.40 C441.67,448.53 443.33,449.40 445.00,450.00 C446.67,450.60 448.33,450.77 450.00,451.00 C451.67,451.23 453.33,451.48 455.00,451.40 C456.67,451.32 458.33,451.05 460.00,450.50 C461.67,449.95 463.33,449.20 465.00,448.10 C466.67,447.00 468.33,445.43 470.00,443.90 C471.67,442.37 473.33,440.38 475.00,438.90 C476.67,437.42 478.33,436.30 480.00,435.00 C481.67,433.70 483.33,432.05 485.00,431.10 C486.67,430.15 488.33,429.37 490.00,429.30 C491.67,429.23 493.33,430.23 495.00,430.70 C496.67,431.17 498.33,431.72 500.00,432.10 C501.67,432.48 503.33,432.62 505.00,433.00 C506.67,433.38 508.33,433.77 510.00,434.40 C511.67,435.03 513.33,435.85 515.00,436.80 C516.67,437.75 518.33,439.27 520.00,440.10 C521.67,440.93 523.33,442.12 525.00,441.80 C526.67,441.48 528.33,439.27 530.00,438.20 C531.67,437.13 533.33,436.42 535.00,435.40 C536.67,434.38 538.33,433.05 540.00,432.10 C541.67,431.15 543.33,430.57 545.00,429.70 C546.67,428.83 548.33,427.97 550.00,426.90 C551.67,425.83 553.33,424.08 555.00,423.30 C556.67,422.52 558.33,422.32 560.00,422.20 C561.67,422.08 563.33,422.45 565.00,422.60 C566.67,422.75 568.33,422.98 570.00,423.10 C571.67,423.22 573.33,423.33 575.00,423.30 C576.67,423.27 578.33,423.32 580.00,422.90 C581.67,422.48 583.33,421.72 585.00,420.80 C586.67,419.88 588.33,418.58 590.00,417.40 C591.67,416.22 593.33,414.78 595.00,413.70 C596.67,412.62 598.33,411.53 600.00,410.90 C601.67,410.27 603.33,410.07 605.00,409.90 C606.67,409.73 608.33,409.50 610.00,409.90 C611.67,410.30 613.33,411.12 615.00,412.30 C616.67,413.48 618.33,415.40 620.00,417.00 C621.67,418.60 623.33,420.88 625.00,421.90 C626.67,422.92 628.33,423.28 630.00,423.10 C631.67,422.92 633.33,421.52 635.00,420.80 C636.67,420.08 638.33,419.03 640.00,418.80 C641.67,418.57 643.33,419.17 645.00,419.40 C646.67,419.63 648.33,420.13 650.00,420.20 C651.67,420.27 653.33,420.17 655.00,419.80 C656.67,419.43 658.33,418.72 660.00,418.00 C661.67,417.28 663.33,416.32 665.00,415.50 C666.67,414.68 668.33,413.63 670.00,413.10 C671.67,412.57 673.33,412.53 675.00,412.30 C676.67,412.07 678.33,411.63 680.00,411.70 C681.67,411.77 683.33,412.53 685.00,412.70 C686.67,412.87 688.33,412.65 690.00,412.70 C691.67,412.75 693.33,412.92 695.00,413.00 C696.67,413.08 698.33,413.27 700.00,413.20 C701.67,413.13 703.33,412.77 705.00,412.60 C706.67,412.43 708.33,412.40 710.00,412.20 C711.67,412.00 713.33,411.93 715.00,411.40 C716.67,410.87 718.33,409.83 720.00,409.00 C721.67,408.17 723.33,407.25 725.00,406.40 C726.67,405.55 728.33,404.68 730.00,403.90 C731.67,403.12 733.33,402.40 735.00,401.70 C736.67,401.00 738.33,400.12 740.00,399.70 C741.67,399.28 743.33,399.33 745.00,399.20 C746.67,399.07 748.33,399.08 750.00,398.90 C751.67,398.72 753.33,398.35 755.00,398.10 C756.67,397.85 758.33,397.65 760.00,397.40 C761.67,397.15 763.33,396.87 765.00,396.60 C766.67,396.33 768.33,395.93 770.00,395.80 C771.67,395.67 773.60,395.23 775.00,395.80 C776.40,396.37 776.88,396.97 778.40,399.20 C779.92,401.43 782.43,406.60 784.10,409.20 C785.77,411.80 786.52,412.45 788.40,414.80 C790.28,417.15 793.05,420.58 795.40,423.30 C797.75,426.02 800.13,428.27 802.50,431.10 C804.87,433.93 807.23,437.70 809.60,440.30 C811.97,442.90 814.33,445.03 816.70,446.70 C819.07,448.37 821.45,449.58 823.80,450.30 C826.15,451.02 828.68,451.37 830.80,451.00 C832.92,450.63 834.60,448.75 836.50,448.10 C838.40,447.45 840.55,447.68 842.20,447.10 C843.85,446.52 844.75,444.78 846.40,444.60 C848.05,444.42 849.97,445.53 852.10,446.00 C854.23,446.47 857.08,446.93 859.20,447.40 C861.32,447.87 863.15,447.15 864.80,448.80 C866.45,450.45 868.38,455.88 869.10,457.30" stroke="#2cc15a"/>
</g>
<g clip-path="url(#cp)">
<rect x="7.77" y="281.8" width="3.8" height="2.20" fill="#ff3f17"/>
<rect x="12.24" y="280.0" width="3.8" height="1.20" fill="#22e31f"/>
<rect x="16.72" y="280.0" width="3.8" height="1.30" fill="#ff3f17"/>
<rect x="21.20" y="280.0" width="3.8" height="1.80" fill="#22e31f"/>
<rect x="25.67" y="283.0" width="3.8" height="1.60" fill="#22e31f"/>
<rect x="30.15" y="283.5" width="3.8" height="2.80" fill="#ff3f17"/>
<rect x="34.62" y="283.5" width="3.8" height="2.50" fill="#22e31f"/>
<line x1="41.00" y1="273.8" x2="41.00" y2="285.0" stroke="#ff3f17" stroke-width="1"/>
<rect x="39.10" y="275.5" width="3.8" height="9.50" fill="#ff3f17"/>
<line x1="45.47" y1="272.0" x2="45.47" y2="277.8" stroke="#ff3f17" stroke-width="1"/>
<rect x="43.57" y="275.5" width="3.8" height="2.30" fill="#ff3f17"/>
<line x1="49.95" y1="281.8" x2="49.95" y2="293.0" stroke="#22e31f" stroke-width="1"/>
<rect x="48.05" y="281.8" width="3.8" height="7.90" fill="#22e31f"/>
<line x1="54.42" y1="292.0" x2="54.42" y2="297.2" stroke="#22e31f" stroke-width="1"/>
<rect x="52.52" y="292.0" width="3.8" height="4.00" fill="#22e31f"/>
<line x1="58.90" y1="297.9" x2="58.90" y2="301.0" stroke="#ff3f17" stroke-width="1"/>
<rect x="57.00" y="297.9" width="3.8" height="2.40" fill="#ff3f17"/>
<line x1="63.38" y1="292.0" x2="63.38" y2="297.9" stroke="#ff3f17" stroke-width="1"/>
<rect x="61.48" y="292.6" width="3.8" height="5.30" fill="#ff3f17"/>
<line x1="67.85" y1="286.7" x2="67.85" y2="293.3" stroke="#ff3f17" stroke-width="1"/>
<rect x="65.95" y="290.0" width="3.8" height="3.30" fill="#ff3f17"/>
<rect x="70.43" y="290.7" width="3.8" height="1.90" fill="#22e31f"/>
<line x1="76.80" y1="281.8" x2="76.80" y2="288.0" stroke="#ff3f17" stroke-width="1"/>
<rect x="74.90" y="282.8" width="3.8" height="5.20" fill="#ff3f17"/>
<rect x="79.38" y="277.5" width="3.8" height="4.60" fill="#ff3f17"/>
<rect x="83.85" y="274.2" width="3.8" height="8.60" fill="#22e31f"/>
<rect x="88.33" y="267.0" width="3.8" height="15.80" fill="#ff3f17"/>
<rect x="92.80" y="259.0" width="3.8" height="8.60" fill="#ff3f17"/>
<line x1="99.18" y1="251.0" x2="99.18" y2="256.4" stroke="#22e31f" stroke-width="1"/>
<rect x="97.28" y="254.5" width="3.8" height="1.90" fill="#22e31f"/>
<rect x="101.76" y="256.4" width="3.8" height="8.60" fill="#22e31f"/>
<rect x="106.23" y="262.4" width="3.8" height="13.10" fill="#22e31f"/>
<rect x="110.71" y="270.3" width="3.8" height="1.90" fill="#22e31f"/>
<rect x="115.18" y="270.3" width="3.8" height="3.30" fill="#ff3f17"/>
<line x1="121.56" y1="265.7" x2="121.56" y2="269.6" stroke="#ff3f17" stroke-width="1"/>
<rect x="119.66" y="267.0" width="3.8" height="1.30" fill="#ff3f17"/>
<line x1="126.03" y1="265.7" x2="126.03" y2="269.6" stroke="#ff3f17" stroke-width="1"/>
<rect x="124.13" y="266.3" width="3.8" height="2.00" fill="#ff3f17"/>
<line x1="130.51" y1="267.0" x2="130.51" y2="273.0" stroke="#ff3f17" stroke-width="1"/>
<rect x="128.61" y="267.0" width="3.8" height="2.60" fill="#ff3f17"/>
<rect x="133.09" y="264.3" width="3.8" height="2.70" fill="#ff3f17"/>
<rect x="137.56" y="260.4" width="3.8" height="4.60" fill="#ff3f17"/>
<rect x="142.04" y="260.4" width="3.8" height="2.60" fill="#22e31f"/>
<rect x="146.51" y="260.4" width="3.8" height="1.00" fill="#22e31f"/>
<rect x="150.99" y="259.0" width="3.8" height="2.00" fill="#ff3f17"/>
<line x1="157.36" y1="253.2" x2="157.36" y2="263.0" stroke="#ff3f17" stroke-width="1"/>
<rect x="155.46" y="258.4" width="3.8" height="2.60" fill="#ff3f17"/>
<rect x="159.94" y="256.4" width="3.8" height="2.60" fill="#22e31f"/>
<line x1="166.31" y1="259.7" x2="166.31" y2="267.0" stroke="#22e31f" stroke-width="1"/>
<rect x="164.41" y="259.7" width="3.8" height="3.30" fill="#22e31f"/>
<rect x="168.89" y="260.4" width="3.8" height="2.00" fill="#22e31f"/>
<line x1="175.27" y1="259.7" x2="175.27" y2="271.0" stroke="#ff3f17" stroke-width="1"/>
<rect x="173.37" y="259.7" width="3.8" height="3.30" fill="#ff3f17"/>
<rect x="177.84" y="259.7" width="3.8" height="2.00" fill="#ff3f17"/>
<line x1="184.22" y1="253.2" x2="184.22" y2="259.0" stroke="#22e31f" stroke-width="1"/>
<rect x="182.32" y="254.5" width="3.8" height="2.60" fill="#22e31f"/>
<line x1="188.69" y1="257.1" x2="188.69" y2="268.3" stroke="#22e31f" stroke-width="1"/>
<rect x="186.79" y="262.4" width="3.8" height="4.60" fill="#22e31f"/>
<line x1="193.17" y1="267.0" x2="193.17" y2="272.0" stroke="#ff3f17" stroke-width="1"/>
<rect x="191.27" y="267.0" width="3.8" height="2.00" fill="#ff3f17"/>
<line x1="197.64" y1="257.1" x2="197.64" y2="261.7" stroke="#ff3f17" stroke-width="1"/>
<rect x="195.74" y="259.0" width="3.8" height="2.00" fill="#ff3f17"/>
<rect x="200.22" y="259.7" width="3.8" height="7.30" fill="#22e31f"/>
<rect x="204.69" y="267.6" width="3.8" height="2.70" fill="#ff3f17"/>
<rect x="209.17" y="266.3" width="3.8" height="4.00" fill="#22e31f"/>
<rect x="213.65" y="268.3" width="3.8" height="1.30" fill="#ff3f17"/>
<rect x="218.12" y="267.6" width="3.8" height="1.10" fill="#22e31f"/>
<rect x="222.60" y="269.0" width="3.8" height="2.60" fill="#22e31f"/>
<rect x="227.07" y="268.7" width="3.8" height="1.00" fill="#22e31f"/>
<rect x="231.55" y="263.7" width="3.8" height="2.00" fill="#ff3f17"/>
<rect x="236.02" y="262.4" width="3.8" height="1.00" fill="#22e31f"/>
<rect x="240.50" y="265.0" width="3.8" height="7.20" fill="#22e31f"/>
<rect x="244.98" y="268.3" width="3.8" height="3.30" fill="#22e31f"/>
<line x1="251.35" y1="271.0" x2="251.35" y2="277.5" stroke="#ff3f17" stroke-width="1"/>
<rect x="249.45" y="271.0" width="3.8" height="1.20" fill="#ff3f17"/>
<line x1="255.83" y1="271.6" x2="255.83" y2="277.5" stroke="#22e31f" stroke-width="1"/>
<rect x="253.93" y="271.6" width="3.8" height="1.80" fill="#22e31f"/>
<line x1="260.30" y1="272.6" x2="260.30" y2="277.5" stroke="#22e31f" stroke-width="1"/>
<rect x="258.40" y="272.6" width="3.8" height="2.20" fill="#22e31f"/>
<rect x="262.88" y="274.2" width="3.8" height="4.60" fill="#22e31f"/>
<line x1="269.25" y1="270.3" x2="269.25" y2="276.2" stroke="#ff3f17" stroke-width="1"/>
<rect x="267.35" y="274.2" width="3.8" height="2.00" fill="#ff3f17"/>
<rect x="271.83" y="269.0" width="3.8" height="4.60" fill="#22e31f"/>
<line x1="278.20" y1="276.8" x2="278.20" y2="284.1" stroke="#22e31f" stroke-width="1"/>
<rect x="276.30" y="276.8" width="3.8" height="2.70" fill="#22e31f"/>
<rect x="280.78" y="277.0" width="3.8" height="2.20" fill="#22e31f"/>
<rect x="285.26" y="274.5" width="3.8" height="3.50" fill="#22e31f"/>
<rect x="289.73" y="276.0" width="3.8" height="1.00" fill="#22e31f"/>
<rect x="294.21" y="275.0" width="3.8" height="2.50" fill="#22e31f"/>
<rect x="298.68" y="269.4" width="3.8" height="2.40" fill="#ff3f17"/>
<rect x="303.16" y="268.6" width="3.8" height="2.40" fill="#22e31f"/>
<rect x="307.63" y="263.7" width="3.8" height="13.80" fill="#ff3f17"/>
<rect x="312.11" y="262.9" width="3.8" height="4.10" fill="#22e31f"/>
<line x1="318.48" y1="252.4" x2="318.48" y2="264.5" stroke="#ff3f17" stroke-width="1"/>
<rect x="316.58" y="254.0" width="3.8" height="7.30" fill="#ff3f17"/>
<rect x="321.06" y="253.2" width="3.8" height="4.80" fill="#22e31f"/>
<rect x="325.54" y="257.2" width="3.8" height="3.30" fill="#ff3f17"/>
<line x1="331.91" y1="248.3" x2="331.91" y2="254.8" stroke="#ff3f17" stroke-width="1"/>
<rect x="330.01" y="250.0" width="3.8" height="3.00" fill="#ff3f17"/>
<rect x="334.49" y="243.5" width="3.8" height="5.50" fill="#ff3f17"/>
<rect x="338.96" y="230.5" width="3.8" height="9.70" fill="#ff3f17"/>
<rect x="343.44" y="235.4" width="3.8" height="5.60" fill="#22e31f"/>
<rect x="347.91" y="236.2" width="3.8" height="3.20" fill="#ff3f17"/>
<rect x="352.39" y="239.5" width="3.8" height="4.50" fill="#ff3f17"/>
<rect x="356.87" y="233.0" width="3.8" height="2.50" fill="#22e31f"/>
<rect x="361.34" y="236.5" width="3.8" height="2.50" fill="#ff3f17"/>
<rect x="365.82" y="233.9" width="3.8" height="3.20" fill="#22e31f"/>
<rect x="370.29" y="231.4" width="3.8" height="4.10" fill="#ff3f17"/>
<line x1="376.67" y1="228.2" x2="376.67" y2="231.4" stroke="#ff3f17" stroke-width="1"/>
<rect x="374.77" y="229.0" width="3.8" height="2.40" fill="#ff3f17"/>
<rect x="379.24" y="229.8" width="3.8" height="4.10" fill="#22e31f"/>
<line x1="385.62" y1="215.9" x2="385.62" y2="229.0" stroke="#ff3f17" stroke-width="1"/>
<rect x="383.72" y="216.9" width="3.8" height="12.10" fill="#ff3f17"/>
<rect x="388.19" y="219.3" width="3.8" height="7.30" fill="#22e31f"/>
<rect x="392.67" y="227.4" width="3.8" height="17.80" fill="#22e31f"/>
<line x1="399.05" y1="239.5" x2="399.05" y2="246.0" stroke="#22e31f" stroke-width="1"/>
<rect x="397.15" y="243.5" width="3.8" height="1.00" fill="#22e31f"/>
<line x1="403.52" y1="245.2" x2="403.52" y2="252.5" stroke="#ff3f17" stroke-width="1"/>
<rect x="401.62" y="245.2" width="3.8" height="5.70" fill="#ff3f17"/>
<rect x="406.10" y="246.0" width="3.8" height="1.00" fill="#22e31f"/>
<line x1="412.47" y1="241.2" x2="412.47" y2="249.7" stroke="#ff3f17" stroke-width="1"/>
<rect x="410.57" y="242.5" width="3.8" height="2.50" fill="#ff3f17"/>
<line x1="416.95" y1="245.2" x2="416.95" y2="258.2" stroke="#22e31f" stroke-width="1"/>
<rect x="415.05" y="245.2" width="3.8" height="6.50" fill="#22e31f"/>
<rect x="419.52" y="246.8" width="3.8" height="6.50" fill="#ff3f17"/>
<line x1="425.90" y1="252.4" x2="425.90" y2="261.0" stroke="#22e31f" stroke-width="1"/>
<rect x="424.00" y="257.0" width="3.8" height="3.30" fill="#22e31f"/>
<rect x="428.47" y="261.0" width="3.8" height="7.00" fill="#22e31f"/>
<line x1="434.85" y1="268.4" x2="434.85" y2="280.1" stroke="#ff3f17" stroke-width="1"/>
<rect x="432.95" y="268.4" width="3.8" height="8.10" fill="#ff3f17"/>
<rect x="437.43" y="263.6" width="3.8" height="3.20" fill="#22e31f"/>
<rect x="441.90" y="262.0" width="3.8" height="4.80" fill="#22e31f"/>
<rect x="446.38" y="265.2" width="3.8" height="3.20" fill="#ff3f17"/>
<rect x="450.85" y="260.3" width="3.8" height="3.30" fill="#22e31f"/>
<rect x="455.33" y="260.3" width="3.8" height="2.70" fill="#ff3f17"/>
<rect x="459.80" y="256.3" width="3.8" height="2.40" fill="#22e31f"/>
<rect x="464.28" y="249.8" width="3.8" height="7.30" fill="#ff3f17"/>
<line x1="470.66" y1="240.9" x2="470.66" y2="248.2" stroke="#e8e8e8" stroke-width="1"/>
<rect x="468.76" y="246.6" width="3.8" height="1.00" fill="#e8e8e8"/>
<line x1="475.13" y1="239.6" x2="475.13" y2="244.5" stroke="#22e31f" stroke-width="1"/>
<rect x="473.23" y="239.8" width="3.8" height="2.40" fill="#22e31f"/>
<rect x="477.71" y="236.0" width="3.8" height="4.90" fill="#ff3f17"/>
<rect x="482.18" y="232.8" width="3.8" height="8.10" fill="#ff3f17"/>
<line x1="488.56" y1="231.7" x2="488.56" y2="236.9" stroke="#22e31f" stroke-width="1"/>
<rect x="486.66" y="233.6" width="3.8" height="3.30" fill="#22e31f"/>
<line x1="493.03" y1="243.0" x2="493.03" y2="248.3" stroke="#22e31f" stroke-width="1"/>
<rect x="491.13" y="244.3" width="3.8" height="1.20" fill="#22e31f"/>
<rect x="495.61" y="246.6" width="3.8" height="3.20" fill="#22e31f"/>
<rect x="500.08" y="246.5" width="3.8" height="2.30" fill="#ff3f17"/>
<rect x="504.56" y="251.2" width="3.8" height="9.70" fill="#ff3f17"/>
<rect x="509.04" y="252.0" width="3.8" height="2.40" fill="#ff3f17"/>
<line x1="515.41" y1="260.9" x2="515.41" y2="278.9" stroke="#22e31f" stroke-width="1"/>
<rect x="513.51" y="268.2" width="3.8" height="1.60" fill="#22e31f"/>
<line x1="519.89" y1="250.3" x2="519.89" y2="259.3" stroke="#22e31f" stroke-width="1"/>
<rect x="517.99" y="254.4" width="3.8" height="3.20" fill="#22e31f"/>
<line x1="524.36" y1="257.6" x2="524.36" y2="265.7" stroke="#22e31f" stroke-width="1"/>
<rect x="522.46" y="257.6" width="3.8" height="3.30" fill="#22e31f"/>
<rect x="526.94" y="236.6" width="3.8" height="11.30" fill="#ff3f17"/>
<rect x="531.41" y="243.9" width="3.8" height="5.60" fill="#ff3f17"/>
<rect x="535.89" y="237.4" width="3.8" height="1.60" fill="#ff3f17"/>
<rect x="540.36" y="234.1" width="3.8" height="1.70" fill="#22e31f"/>
<rect x="544.84" y="233.3" width="3.8" height="1.70" fill="#22e31f"/>
<rect x="549.32" y="229.3" width="3.8" height="5.70" fill="#ff3f17"/>
<rect x="553.79" y="225.2" width="3.8" height="4.90" fill="#ff3f17"/>
<rect x="558.27" y="228.5" width="3.8" height="2.40" fill="#22e31f"/>
<rect x="562.74" y="230.1" width="3.8" height="3.20" fill="#22e31f"/>
<rect x="567.22" y="229.0" width="3.8" height="1.90" fill="#22e31f"/>
<line x1="573.59" y1="225.2" x2="573.59" y2="235.8" stroke="#22e31f" stroke-width="1"/>
<rect x="571.69" y="227.7" width="3.8" height="6.40" fill="#22e31f"/>
<rect x="576.17" y="235.0" width="3.8" height="4.00" fill="#ff3f17"/>
<line x1="582.55" y1="225.9" x2="582.55" y2="232.3" stroke="#ff3f17" stroke-width="1"/>
<rect x="580.65" y="228.3" width="3.8" height="4.00" fill="#ff3f17"/>
<rect x="585.12" y="212.9" width="3.8" height="13.00" fill="#ff3f17"/>
<rect x="589.60" y="210.5" width="3.8" height="4.80" fill="#ff3f17"/>
<line x1="595.97" y1="206.4" x2="595.97" y2="212.9" stroke="#e8e8e8" stroke-width="1"/>
<rect x="594.07" y="210.5" width="3.8" height="1.60" fill="#e8e8e8"/>
<rect x="598.55" y="207.6" width="3.8" height="2.90" fill="#22e31f"/>
<rect x="603.02" y="211.3" width="3.8" height="2.40" fill="#22e31f"/>
<line x1="609.40" y1="212.9" x2="609.40" y2="219.4" stroke="#ff3f17" stroke-width="1"/>
<rect x="607.50" y="212.9" width="3.8" height="2.40" fill="#ff3f17"/>
<line x1="613.87" y1="214.5" x2="613.87" y2="223.4" stroke="#22e31f" stroke-width="1"/>
<rect x="611.97" y="214.5" width="3.8" height="6.50" fill="#22e31f"/>
<line x1="618.35" y1="217.8" x2="618.35" y2="227.5" stroke="#22e31f" stroke-width="1"/>
<rect x="616.45" y="217.8" width="3.8" height="6.50" fill="#22e31f"/>
<line x1="622.83" y1="225.9" x2="622.83" y2="240.4" stroke="#22e31f" stroke-width="1"/>
<rect x="620.93" y="225.9" width="3.8" height="10.50" fill="#22e31f"/>
<rect x="625.40" y="226.7" width="3.8" height="12.90" fill="#ff3f17"/>
<rect x="629.88" y="213.7" width="3.8" height="9.70" fill="#ff3f17"/>
<rect x="634.35" y="210.5" width="3.8" height="8.10" fill="#ff3f17"/>
<rect x="638.83" y="206.0" width="3.8" height="6.10" fill="#22e31f"/>
<rect x="643.30" y="208.9" width="3.8" height="6.40" fill="#22e31f"/>
<rect x="647.78" y="212.9" width="3.8" height="4.10" fill="#22e31f"/>
<line x1="654.15" y1="210.4" x2="654.15" y2="216.9" stroke="#ff3f17" stroke-width="1"/>
<rect x="652.25" y="210.4" width="3.8" height="4.10" fill="#ff3f17"/>
<rect x="656.73" y="205.6" width="3.8" height="4.00" fill="#ff3f17"/>
<line x1="663.11" y1="200.7" x2="663.11" y2="206.4" stroke="#ff3f17" stroke-width="1"/>
<rect x="661.21" y="200.7" width="3.8" height="3.30" fill="#ff3f17"/>
<line x1="667.58" y1="195.9" x2="667.58" y2="201.5" stroke="#e8e8e8" stroke-width="1"/>
<rect x="665.68" y="200.0" width="3.8" height="1.50" fill="#e8e8e8"/>
<line x1="672.06" y1="189.4" x2="672.06" y2="198.3" stroke="#ff3f17" stroke-width="1"/>
<rect x="670.16" y="191.8" width="3.8" height="5.70" fill="#ff3f17"/>
<line x1="676.53" y1="197.5" x2="676.53" y2="204.0" stroke="#22e31f" stroke-width="1"/>
<rect x="674.63" y="197.5" width="3.8" height="3.20" fill="#22e31f"/>
<rect x="679.11" y="195.9" width="3.8" height="3.20" fill="#ff3f17"/>
<line x1="685.48" y1="194.3" x2="685.48" y2="204.8" stroke="#22e31f" stroke-width="1"/>
<rect x="683.58" y="194.3" width="3.8" height="8.90" fill="#22e31f"/>
<rect x="688.06" y="195.1" width="3.8" height="5.60" fill="#ff3f17"/>
<rect x="692.54" y="193.4" width="3.8" height="4.90" fill="#22e31f"/>
<rect x="697.01" y="195.9" width="3.8" height="4.00" fill="#22e31f"/>
<rect x="701.49" y="190.2" width="3.8" height="8.90" fill="#ff3f17"/>
<rect x="705.96" y="185.3" width="3.8" height="2.50" fill="#22e31f"/>
<line x1="712.34" y1="185.3" x2="712.34" y2="193.4" stroke="#22e31f" stroke-width="1"/>
<rect x="710.44" y="187.8" width="3.8" height="4.00" fill="#22e31f"/>
<rect x="714.91" y="187.0" width="3.8" height="7.30" fill="#ff3f17"/>
<line x1="721.29" y1="169.1" x2="721.29" y2="183.7" stroke="#ff3f17" stroke-width="1"/>
<rect x="719.39" y="177.2" width="3.8" height="6.50" fill="#ff3f17"/>
<line x1="725.76" y1="170.3" x2="725.76" y2="179.5" stroke="#ff3f17" stroke-width="1"/>
<rect x="723.86" y="173.5" width="3.8" height="2.00" fill="#ff3f17"/>
<line x1="730.24" y1="170.3" x2="730.24" y2="179.3" stroke="#ff3f17" stroke-width="1"/>
<rect x="728.34" y="171.2" width="3.8" height="4.80" fill="#ff3f17"/>
<line x1="734.72" y1="165.5" x2="734.72" y2="173.6" stroke="#ff3f17" stroke-width="1"/>
<rect x="732.82" y="167.9" width="3.8" height="3.30" fill="#ff3f17"/>
<line x1="739.19" y1="161.4" x2="739.19" y2="167.9" stroke="#ff3f17" stroke-width="1"/>
<rect x="737.29" y="163.0" width="3.8" height="3.30" fill="#ff3f17"/>
<rect x="741.77" y="164.7" width="3.8" height="4.00" fill="#22e31f"/>
<rect x="746.24" y="164.7" width="3.8" height="5.60" fill="#ff3f17"/>
<rect x="750.72" y="162.6" width="3.8" height="2.90" fill="#22e31f"/>
<line x1="757.09" y1="158.0" x2="757.09" y2="167.2" stroke="#22e31f" stroke-width="1"/>
<rect x="755.19" y="161.5" width="3.8" height="1.50" fill="#22e31f"/>
<line x1="761.57" y1="152.5" x2="761.57" y2="159.8" stroke="#22e31f" stroke-width="1"/>
<rect x="759.67" y="155.8" width="3.8" height="2.40" fill="#22e31f"/>
<rect x="764.14" y="155.0" width="3.8" height="3.20" fill="#ff3f17"/>
<line x1="770.52" y1="146.9" x2="770.52" y2="155.0" stroke="#ff3f17" stroke-width="1"/>
<rect x="768.62" y="150.9" width="3.8" height="4.10" fill="#ff3f17"/>
<line x1="775.00" y1="144.5" x2="775.00" y2="153.3" stroke="#22e31f" stroke-width="1"/>
<rect x="773.10" y="146.0" width="3.8" height="7.30" fill="#22e31f"/>
<rect x="777.57" y="160.6" width="3.8" height="15.40" fill="#22e31f"/>
<rect x="782.05" y="178.4" width="3.8" height="10.60" fill="#22e31f"/>
<line x1="788.42" y1="180.9" x2="788.42" y2="189.0" stroke="#22e31f" stroke-width="1"/>
<rect x="786.52" y="183.3" width="3.8" height="4.00" fill="#22e31f"/>
<rect x="791.00" y="187.3" width="3.8" height="2.50" fill="#ff3f17"/>
<rect x="795.47" y="189.0" width="3.8" height="2.40" fill="#22e31f"/>
<line x1="801.85" y1="191.4" x2="801.85" y2="200.5" stroke="#22e31f" stroke-width="1"/>
<rect x="799.95" y="191.4" width="3.8" height="3.20" fill="#22e31f"/>
<line x1="806.33" y1="196.0" x2="806.33" y2="203.7" stroke="#22e31f" stroke-width="1"/>
<rect x="804.43" y="196.0" width="3.8" height="1.20" fill="#22e31f"/>
<line x1="810.80" y1="197.2" x2="810.80" y2="203.7" stroke="#22e31f" stroke-width="1"/>
<rect x="808.90" y="199.7" width="3.8" height="2.70" fill="#22e31f"/>
<line x1="815.28" y1="202.9" x2="815.28" y2="209.0" stroke="#ff3f17" stroke-width="1"/>
<rect x="813.38" y="202.9" width="3.8" height="1.60" fill="#ff3f17"/>
<line x1="819.75" y1="198.0" x2="819.75" y2="204.5" stroke="#22e31f" stroke-width="1"/>
<rect x="817.85" y="200.5" width="3.8" height="3.20" fill="#22e31f"/>
<line x1="824.23" y1="200.5" x2="824.23" y2="204.5" stroke="#22e31f" stroke-width="1"/>
<rect x="822.33" y="200.5" width="3.8" height="2.40" fill="#22e31f"/>
<line x1="828.70" y1="192.4" x2="828.70" y2="199.7" stroke="#ff3f17" stroke-width="1"/>
<rect x="826.80" y="196.0" width="3.8" height="3.20" fill="#ff3f17"/>
<line x1="833.18" y1="183.5" x2="833.18" y2="191.6" stroke="#ff3f17" stroke-width="1"/>
<rect x="831.28" y="186.7" width="3.8" height="4.90" fill="#ff3f17"/>
<line x1="837.65" y1="181.9" x2="837.65" y2="194.0" stroke="#22e31f" stroke-width="1"/>
<rect x="835.75" y="186.0" width="3.8" height="6.70" fill="#22e31f"/>
<line x1="842.13" y1="190.8" x2="842.13" y2="198.0" stroke="#ff3f17" stroke-width="1"/>
<rect x="840.23" y="192.0" width="3.8" height="2.00" fill="#ff3f17"/>
<rect x="844.71" y="182.7" width="3.8" height="6.10" fill="#ff3f17"/>
<line x1="851.08" y1="174.0" x2="851.08" y2="199.0" stroke="#22e31f" stroke-width="1"/>
<rect x="849.18" y="182.0" width="3.8" height="17.00" fill="#22e31f"/>
<rect x="853.66" y="196.3" width="3.8" height="4.20" fill="#22e31f"/>
<line x1="860.03" y1="195.8" x2="860.03" y2="205.4" stroke="#22e31f" stroke-width="1"/>
<rect x="858.13" y="195.8" width="3.8" height="3.50" fill="#22e31f"/>
<rect x="862.61" y="199.0" width="3.8" height="2.50" fill="#22e31f"/>
<line x1="868.98" y1="216.1" x2="868.98" y2="233.5" stroke="#22e31f" stroke-width="1"/>
<rect x="867.08" y="226.7" width="3.8" height="6.70" fill="#22e31f"/>
<line x1="9" y1="233.2" x2="954" y2="233.2" stroke="#e0b012" stroke-width="2" stroke-dasharray="7 6.53"/>
<g fill="none" stroke-width="1.75" stroke-linejoin="round">
<path d="M9.00,289.40 C12.50,289.33 23.17,289.20 30.00,289.00 C36.83,288.80 45.00,288.28 50.00,288.20 C55.00,288.12 56.17,288.38 60.00,288.50 C63.83,288.62 68.50,288.98 73.00,288.90 C77.50,288.82 82.40,288.30 87.00,288.00 C91.60,287.70 95.30,287.43 100.60,287.10 C105.90,286.77 113.90,286.52 118.80,286.00 C123.70,285.48 125.43,284.80 130.00,284.00 C134.57,283.20 140.80,282.00 146.20,281.20 C151.60,280.40 157.00,279.80 162.40,279.20 C167.80,278.60 173.20,278.08 178.60,277.60 C184.00,277.12 189.57,276.72 194.80,276.30 C200.03,275.88 204.13,275.45 210.00,275.10 C215.87,274.75 223.50,274.45 230.00,274.20 C236.50,273.95 243.17,273.70 249.00,273.60 C254.83,273.50 258.17,273.60 265.00,273.60 C271.83,273.60 282.50,273.72 290.00,273.60 C297.50,273.48 303.75,273.22 310.00,272.90 C316.25,272.58 320.42,272.45 327.50,271.70 C334.58,270.95 343.12,269.60 352.50,268.40 C361.88,267.20 374.38,265.80 383.75,264.50 C393.12,263.20 401.98,261.45 408.75,260.60 C415.52,259.75 417.52,259.68 424.40,259.40 C431.27,259.12 443.23,259.10 450.00,258.90 C456.77,258.70 459.17,258.50 465.00,258.20 C470.83,257.90 478.33,257.38 485.00,257.10 C491.67,256.82 499.17,256.68 505.00,256.50 C510.83,256.32 514.17,256.30 520.00,256.00 C525.83,255.70 531.46,255.49 540.00,254.70 C548.54,253.91 562.65,252.22 571.25,251.25 C579.85,250.28 583.81,249.94 591.60,248.90 C599.39,247.86 608.37,246.57 618.00,245.00 C627.63,243.43 638.97,241.20 649.40,239.50 C659.83,237.80 672.17,236.02 680.60,234.80 C689.03,233.58 693.43,233.17 700.00,232.20 C706.57,231.23 713.33,230.17 720.00,229.00 C726.67,227.83 733.33,226.72 740.00,225.20 C746.67,223.68 753.33,221.82 760.00,219.90 C766.67,217.98 773.33,215.30 780.00,213.70 C786.67,212.10 795.00,211.02 800.00,210.30 C805.00,209.58 806.67,209.85 810.00,209.40 C813.33,208.95 816.67,208.13 820.00,207.60 C823.33,207.07 826.67,206.80 830.00,206.20 C833.33,205.60 836.67,204.63 840.00,204.00 C843.33,203.37 846.67,202.90 850.00,202.40 C853.33,201.90 856.73,201.45 860.00,201.00 C863.27,200.55 868.00,199.92 869.60,199.70" stroke="#20c27c"/>
<path d="M9.00,279.30 C12.50,279.30 23.17,279.27 30.00,279.30 C36.83,279.33 45.00,279.08 50.00,279.50 C55.00,279.92 56.67,281.15 60.00,281.80 C63.33,282.45 66.67,283.00 70.00,283.40 C73.33,283.80 77.17,284.05 80.00,284.20 C82.83,284.35 83.57,284.62 87.00,284.30 C90.43,283.98 95.30,282.97 100.60,282.30 C105.90,281.63 113.07,281.08 118.80,280.30 C124.53,279.52 130.43,278.33 135.00,277.60 C139.57,276.87 141.63,276.65 146.20,275.90 C150.77,275.15 158.35,273.90 162.40,273.10 C166.45,272.30 167.80,271.98 170.50,271.10 C173.20,270.22 175.90,268.75 178.60,267.80 C181.30,266.85 184.00,266.00 186.70,265.40 C189.40,264.80 192.10,264.47 194.80,264.20 C197.50,263.93 200.03,263.83 202.90,263.80 C205.77,263.77 208.32,263.98 212.00,264.00 C215.68,264.02 220.33,263.88 225.00,263.90 C229.67,263.92 234.17,263.80 240.00,264.10 C245.83,264.40 254.17,265.08 260.00,265.70 C265.83,266.32 270.00,267.05 275.00,267.80 C280.00,268.55 285.83,269.58 290.00,270.20 C294.17,270.82 295.83,271.37 300.00,271.50 C304.17,271.63 310.00,271.35 315.00,271.00 C320.00,270.65 325.00,270.20 330.00,269.40 C335.00,268.60 341.33,267.10 345.00,266.20 C348.67,265.30 349.50,264.80 352.00,264.00 C354.50,263.20 357.00,262.52 360.00,261.40 C363.00,260.28 366.67,258.65 370.00,257.30 C373.33,255.95 376.67,254.63 380.00,253.30 C383.33,251.97 386.67,250.60 390.00,249.30 C393.33,248.00 396.67,246.58 400.00,245.50 C403.33,244.42 406.67,243.47 410.00,242.80 C413.33,242.13 416.67,241.72 420.00,241.50 C423.33,241.28 425.83,241.20 430.00,241.50 C434.17,241.80 439.17,242.45 445.00,243.30 C450.83,244.15 460.00,245.92 465.00,246.60 C470.00,247.28 471.67,247.13 475.00,247.40 C478.33,247.67 481.67,247.88 485.00,248.20 C488.33,248.52 491.67,248.78 495.00,249.30 C498.33,249.82 502.50,250.80 505.00,251.30 C507.50,251.80 507.50,251.97 510.00,252.30 C512.50,252.63 516.67,253.22 520.00,253.30 C523.33,253.38 526.67,253.05 530.00,252.80 C533.33,252.55 536.67,252.43 540.00,251.80 C543.33,251.17 546.67,249.97 550.00,249.00 C553.33,248.03 556.67,246.98 560.00,246.00 C563.33,245.02 566.67,243.92 570.00,243.10 C573.33,242.28 577.50,241.68 580.00,241.10 C582.50,240.52 582.50,240.17 585.00,239.60 C587.50,239.03 591.67,238.37 595.00,237.70 C598.33,237.03 601.67,236.22 605.00,235.60 C608.33,234.98 611.67,234.55 615.00,234.00 C618.33,233.45 621.67,233.12 625.00,232.30 C628.33,231.48 631.67,230.30 635.00,229.10 C638.33,227.90 641.67,226.45 645.00,225.10 C648.33,223.75 652.50,221.98 655.00,221.00 C657.50,220.02 655.83,220.33 660.00,219.20 C664.17,218.07 675.00,215.52 680.00,214.20 C685.00,212.88 686.33,212.33 690.00,211.30 C693.67,210.27 698.00,208.97 702.00,208.00 C706.00,207.03 709.93,206.52 714.00,205.50 C718.07,204.48 722.30,203.52 726.40,201.90 C730.50,200.28 734.55,197.92 738.60,195.80 C742.65,193.68 746.65,191.22 750.70,189.20 C754.75,187.18 758.85,185.43 762.90,183.70 C766.95,181.97 770.95,179.92 775.00,178.80 C779.05,177.68 783.15,177.40 787.20,177.00 C791.25,176.60 795.50,176.48 799.30,176.40 C803.10,176.32 806.55,176.27 810.00,176.50 C813.45,176.73 816.67,177.45 820.00,177.80 C823.33,178.15 826.67,178.33 830.00,178.60 C833.33,178.87 836.67,178.93 840.00,179.40 C843.33,179.87 846.67,180.58 850.00,181.40 C853.33,182.22 857.50,183.42 860.00,184.30 C862.50,185.18 863.40,185.83 865.00,186.70 C866.60,187.57 868.83,189.03 869.60,189.50" stroke="#d05c3c"/>
<path d="M9.00,283.50 C10.83,283.25 15.67,282.08 20.00,282.00 C24.33,281.92 30.83,283.13 35.00,283.00 C39.17,282.87 42.50,281.30 45.00,281.20 C47.50,281.10 48.33,281.83 50.00,282.40 C51.67,282.97 53.40,283.78 55.00,284.60 C56.60,285.42 58.08,286.23 59.60,287.30 C61.12,288.37 62.58,290.00 64.10,291.00 C65.62,292.00 67.33,292.77 68.70,293.30 C70.07,293.83 70.78,294.58 72.30,294.20 C73.82,293.82 76.13,292.22 77.80,291.00 C79.47,289.78 80.78,288.20 82.30,286.90 C83.82,285.60 85.38,284.65 86.90,283.20 C88.42,281.75 89.88,280.08 91.40,278.20 C92.92,276.32 94.47,273.63 96.00,271.90 C97.53,270.17 99.08,268.95 100.60,267.80 C102.12,266.65 103.58,265.53 105.10,265.00 C106.62,264.47 108.18,264.45 109.70,264.60 C111.22,264.75 112.68,265.15 114.20,265.90 C115.72,266.65 117.28,268.27 118.80,269.10 C120.32,269.93 121.78,270.75 123.30,270.90 C124.82,271.05 125.95,270.52 127.90,270.00 C129.85,269.48 131.95,268.82 135.00,267.80 C138.05,266.78 142.98,264.97 146.20,263.90 C149.42,262.83 151.60,261.98 154.30,261.40 C157.00,260.82 159.70,260.58 162.40,260.40 C165.10,260.22 167.80,260.30 170.50,260.30 C173.20,260.30 175.90,260.28 178.60,260.40 C181.30,260.52 184.00,260.68 186.70,261.00 C189.40,261.32 192.10,261.77 194.80,262.30 C197.50,262.83 200.37,263.48 202.90,264.20 C205.43,264.92 207.15,265.92 210.00,266.60 C212.85,267.28 216.67,267.80 220.00,268.30 C223.33,268.80 226.67,269.82 230.00,269.60 C233.33,269.38 236.67,267.22 240.00,267.00 C243.33,266.78 246.67,267.43 250.00,268.30 C253.33,269.17 256.67,271.17 260.00,272.20 C263.33,273.23 266.67,273.73 270.00,274.50 C273.33,275.27 276.67,276.28 280.00,276.80 C283.33,277.32 287.33,277.33 290.00,277.60 C292.67,277.87 294.00,278.77 296.00,278.40 C298.00,278.03 299.97,276.30 302.00,275.40 C304.03,274.50 306.15,273.82 308.20,273.00 C310.25,272.18 312.28,271.83 314.30,270.50 C316.32,269.17 318.28,266.62 320.30,265.00 C322.32,263.38 324.37,262.30 326.40,260.80 C328.43,259.30 330.47,257.92 332.50,256.00 C334.53,254.08 336.58,251.33 338.60,249.30 C340.62,247.27 342.58,245.52 344.60,243.80 C346.62,242.08 348.87,240.22 350.70,239.00 C352.53,237.78 353.58,236.82 355.60,236.50 C357.62,236.18 360.73,237.08 362.80,237.10 C364.87,237.12 365.97,236.87 368.00,236.60 C370.03,236.33 372.17,236.23 375.00,235.50 C377.83,234.77 382.50,233.35 385.00,232.20 C387.50,231.05 388.33,229.05 390.00,228.60 C391.67,228.15 392.50,228.08 395.00,229.50 C397.50,230.92 402.17,235.02 405.00,237.10 C407.83,239.18 409.23,240.67 412.00,242.00 C414.77,243.33 419.13,243.82 421.60,245.10 C424.07,246.38 424.83,247.62 426.80,249.70 C428.77,251.78 431.20,255.18 433.40,257.60 C435.60,260.02 438.07,262.75 440.00,264.20 C441.93,265.65 443.47,265.88 445.00,266.30 C446.53,266.72 447.83,266.85 449.20,266.70 C450.57,266.55 451.45,266.17 453.20,265.40 C454.95,264.63 457.52,263.63 459.70,262.10 C461.88,260.57 464.10,258.28 466.30,256.20 C468.50,254.12 470.70,251.80 472.90,249.60 C475.10,247.40 477.53,244.65 479.50,243.00 C481.47,241.35 483.17,240.42 484.70,239.70 C486.23,238.98 487.38,238.73 488.70,238.70 C490.02,238.67 490.85,238.88 492.60,239.50 C494.35,240.12 497.00,241.15 499.20,242.40 C501.40,243.65 503.83,245.58 505.80,247.00 C507.77,248.42 509.25,249.80 511.00,250.90 C512.75,252.00 514.80,252.93 516.30,253.60 C517.80,254.27 518.47,254.82 520.00,254.90 C521.53,254.98 523.70,254.35 525.50,254.10 C527.30,253.85 529.48,253.65 530.80,253.40 C532.12,253.15 532.08,253.88 533.40,252.60 C534.72,251.32 536.95,247.73 538.70,245.70 C540.45,243.67 542.37,241.83 543.90,240.40 C545.43,238.97 546.58,237.98 547.90,237.10 C549.22,236.22 550.27,235.98 551.80,235.10 C553.33,234.22 555.33,232.57 557.10,231.80 C558.87,231.03 560.65,230.72 562.40,230.50 C564.15,230.28 565.85,230.38 567.60,230.50 C569.35,230.62 571.13,230.75 572.90,231.20 C574.67,231.65 576.45,232.98 578.20,233.20 C579.95,233.42 581.65,233.50 583.40,232.50 C585.15,231.50 587.27,228.73 588.70,227.20 C590.13,225.67 590.90,224.65 592.00,223.30 C593.10,221.95 593.88,220.57 595.30,219.10 C596.72,217.63 598.75,215.82 600.50,214.50 C602.25,213.18 604.03,211.68 605.80,211.20 C607.57,210.72 609.35,211.05 611.10,211.60 C612.85,212.15 614.55,213.25 616.30,214.50 C618.05,215.75 620.07,217.68 621.60,219.10 C623.13,220.52 624.18,222.07 625.50,223.00 C626.82,223.93 627.97,224.53 629.50,224.70 C631.03,224.87 632.95,224.50 634.70,224.00 C636.45,223.50 638.23,222.63 640.00,221.70 C641.77,220.77 643.55,219.60 645.30,218.40 C647.05,217.20 648.75,215.48 650.50,214.50 C652.25,213.52 654.05,213.17 655.80,212.50 C657.55,211.83 659.25,211.38 661.00,210.50 C662.75,209.62 664.80,208.18 666.30,207.20 C667.80,206.22 668.55,205.82 670.00,204.60 C671.45,203.38 673.33,200.95 675.00,199.90 C676.67,198.85 677.50,198.57 680.00,198.30 C682.50,198.03 686.67,198.30 690.00,198.30 C693.33,198.30 697.50,198.57 700.00,198.30 C702.50,198.03 703.33,197.37 705.00,196.70 C706.67,196.03 708.33,194.98 710.00,194.30 C711.67,193.62 713.28,193.75 715.00,192.60 C716.72,191.45 718.55,189.03 720.30,187.40 C722.05,185.77 723.75,184.12 725.50,182.80 C727.25,181.48 729.05,180.82 730.80,179.50 C732.55,178.18 734.25,176.43 736.00,174.90 C737.75,173.37 739.80,171.40 741.30,170.30 C742.80,169.20 743.55,168.78 745.00,168.30 C746.45,167.82 748.33,167.87 750.00,167.40 C751.67,166.93 753.33,166.08 755.00,165.50 C756.67,164.92 758.33,164.65 760.00,163.90 C761.67,163.15 763.33,161.95 765.00,161.00 C766.67,160.05 768.33,159.13 770.00,158.20 C771.67,157.27 773.33,155.27 775.00,155.40 C776.67,155.53 778.33,157.32 780.00,159.00 C781.67,160.68 783.33,162.93 785.00,165.50 C786.67,168.07 788.33,171.30 790.00,174.40 C791.67,177.50 793.33,181.68 795.00,184.10 C796.67,186.52 798.33,187.80 800.00,188.90 C801.67,190.00 803.33,189.85 805.00,190.70 C806.67,191.55 808.33,192.92 810.00,194.00 C811.67,195.08 813.33,196.25 815.00,197.20 C816.67,198.15 818.33,199.02 820.00,199.70 C821.67,200.38 823.33,201.03 825.00,201.30 C826.67,201.57 828.33,201.70 830.00,201.30 C831.67,200.90 833.33,199.85 835.00,198.90 C836.67,197.95 838.33,196.68 840.00,195.60 C841.67,194.52 843.33,193.33 845.00,192.40 C846.67,191.47 848.33,190.00 850.00,190.00 C851.67,190.00 853.33,191.60 855.00,192.40 C856.67,193.20 858.33,193.85 860.00,194.80 C861.67,195.75 863.40,196.07 865.00,198.10 C866.60,200.13 868.83,205.52 869.60,207.00" stroke="#d6d638"/>
</g>
</g>
<text x="99.2" y="248.6" font-family="Liberation Sans, sans-serif" font-size="15" fill="#e6e6e6" text-anchor="middle" stroke="#e6e6e6" stroke-width="0.3">3,649.0</text>
<text x="58.9" y="314.5" font-family="Liberation Sans, sans-serif" font-size="15" fill="#e6e6e6" text-anchor="middle" stroke="#e6e6e6" stroke-width="0.3">3,010.0</text>
<text x="278.2" y="298.8" font-family="Liberation Sans, sans-serif" font-size="15" fill="#e6e6e6" text-anchor="middle" stroke="#e6e6e6" stroke-width="0.3">3,226.0</text>
<text x="385.6" y="213.4" font-family="Liberation Sans, sans-serif" font-size="15" fill="#e6e6e6" text-anchor="middle" stroke="#e6e6e6" stroke-width="0.3">4,100.0</text>
<text x="488.6" y="229.1" font-family="Liberation Sans, sans-serif" font-size="15" fill="#e6e6e6" text-anchor="middle" stroke="#e6e6e6" stroke-width="0.3">3,897.0</text>
<text x="434.9" y="294.1" font-family="Liberation Sans, sans-serif" font-size="15" fill="#e6e6e6" text-anchor="middle" stroke="#e6e6e6" stroke-width="0.3">3,277.0</text>
<text x="515.4" y="294.1" font-family="Liberation Sans, sans-serif" font-size="15" fill="#e6e6e6" text-anchor="middle" stroke="#e6e6e6" stroke-width="0.3">3,292.0</text>
<text x="775.0" y="141.2" font-family="Liberation Sans, sans-serif" font-size="15" fill="#e6e6e6" text-anchor="middle" stroke="#e6e6e6" stroke-width="0.3">5,015.0</text>
<text x="815.3" y="222.5" font-family="Liberation Sans, sans-serif" font-size="15" fill="#e6e6e6" text-anchor="middle" stroke="#e6e6e6" stroke-width="0.3">4,189.0</text>
<g stroke="#4a4a56" stroke-width="1" stroke-opacity="0.45">
<line x1="58.90" y1="96" x2="58.90" y2="315.6"/>
<line x1="148.41" y1="96" x2="148.41" y2="315.6"/>
<line x1="242.40" y1="96" x2="242.40" y2="315.6"/>
<line x1="327.44" y1="96" x2="327.44" y2="315.6"/>
<line x1="408.00" y1="96" x2="408.00" y2="315.6"/>
<line x1="497.51" y1="96" x2="497.51" y2="315.6"/>
<line x1="591.50" y1="96" x2="591.50" y2="315.6"/>
<line x1="681.01" y1="96" x2="681.01" y2="315.6"/>
<line x1="775.00" y1="96" x2="775.00" y2="315.6"/>
</g>
<rect x="9" y="0" width="1015" height="52" fill="#191b39"/><rect x="9" y="48.6" width="1015" height="3.3" fill="#1e1e45"/>
<text x="21" y="31.6" font-family="Liberation Sans, Noto Sans CJK JP, sans-serif" font-size="17" fill="#ececf2" stroke="#ececf2" stroke-width="0.3">(9697)</text>
<text x="76.8" y="33" font-family="Liberation Sans, Noto Sans CJK JP, sans-serif" font-size="24" fill="#ececf2">カプコン</text>
<text x="178.5" y="29.6" font-family="Liberation Sans, Noto Sans CJK JP, sans-serif" font-size="14" fill="#ececf2" textLength="29" lengthAdjust="spacingAndGlyphs">東証</text>
<text x="208.3" y="26" font-family="Liberation Sans, Noto Sans CJK JP, sans-serif" font-size="13" fill="#ececf2" stroke="#ececf2" stroke-width="0.3">*</text>
<text x="420.4" y="19.7" font-family="Liberation Sans, Noto Sans CJK JP, sans-serif" font-size="15" fill="#ececf2" textLength="31" lengthAdjust="spacingAndGlyphs">高値</text>
<text x="456.3" y="20.9" font-family="Liberation Sans, Noto Sans CJK JP, sans-serif" font-size="17" fill="#ececf2" stroke="#ececf2" stroke-width="0.3">4,097.0</text>
<text x="420.4" y="42.3" font-family="Liberation Sans, Noto Sans CJK JP, sans-serif" font-size="15" fill="#ececf2" textLength="31" lengthAdjust="spacingAndGlyphs">安値</text>
<text x="456.3" y="43.5" font-family="Liberation Sans, Noto Sans CJK JP, sans-serif" font-size="17" fill="#ececf2" stroke="#ececf2" stroke-width="0.3">3,874.0</text>
<text x="585.4" y="19.7" font-family="Liberation Sans, Noto Sans CJK JP, sans-serif" font-size="15" fill="#ececf2" textLength="31" lengthAdjust="spacingAndGlyphs">始値</text>
<text x="621" y="20.9" font-family="Liberation Sans, Noto Sans CJK JP, sans-serif" font-size="17" fill="#ececf2" stroke="#ececf2" stroke-width="0.3">3,962.0</text>
<text x="585.4" y="42.3" font-family="Liberation Sans, Noto Sans CJK JP, sans-serif" font-size="15" fill="#ececf2" textLength="31" lengthAdjust="spacingAndGlyphs">終値</text>
<text x="621" y="43.5" font-family="Liberation Sans, Noto Sans CJK JP, sans-serif" font-size="17" fill="#ececf2" stroke="#ececf2" stroke-width="0.3">3,876.0</text>
<text x="753.4" y="19.7" font-family="Liberation Sans, Noto Sans CJK JP, sans-serif" font-size="15" fill="#ececf2" textLength="46" lengthAdjust="spacingAndGlyphs">出来高</text>
<text x="805.2" y="20.9" font-family="Liberation Sans, Noto Sans CJK JP, sans-serif" font-size="17" fill="#ececf2" stroke="#ececf2" stroke-width="0.3">9,087,800</text>
<text x="753.4" y="42.3" font-family="Liberation Sans, Noto Sans CJK JP, sans-serif" font-size="15" fill="#ececf2" textLength="30" lengthAdjust="spacingAndGlyphs">日時</text>
<text x="805.2" y="43.5" font-family="Liberation Sans, Noto Sans CJK JP, sans-serif" font-size="17" fill="#ececf2" stroke="#ececf2" stroke-width="0.3">2025/07/31</text>
<path d="M983.5,11.5 L1011,38.8 M1011,11.5 L983.5,38.8" stroke="#ffffff" stroke-width="2.6" fill="none"/>
<rect x="23" y="59" width="104" height="36.4" rx="5" fill="#3f404f" stroke="#55566a" stroke-width="0.8"/>
<path d="M93,59.4 H122 a4.6,4.6 0 0 1 4.6,4.6 V90.4 a4.6,4.6 0 0 1 -4.6,4.6 H93 Z" fill="#6c6d79"/>
<path d="M101.7,74 L119.1,74 L110.4,84 Z" fill="#ffffff"/>
<text x="27.6" y="83" font-family="Liberation Sans, Noto Sans CJK JP, sans-serif" font-size="16" fill="#f0f0f0">日足</text>
<rect x="146.8" y="59.1" width="122.1" height="35.9" rx="6" fill="#e9e9ee"/>
<text x="207.8" y="82.5" font-family="Liberation Sans, Noto Sans CJK JP, sans-serif" font-size="15" fill="#333338" text-anchor="middle">価格帯別出来高</text>
<rect x="917.6" y="59.1" width="36" height="36" rx="5" fill="#e9e9ee"/>
<path d="M924.3,65.5 H947.2 V88.6 H924.3 Z M935.75,65.5 V88.6 M924.3,77 H947.2" stroke="#333" stroke-width="1.9" fill="none"/>
<rect x="974.5" y="59.1" width="36.5" height="36" rx="5" fill="#e9e9ee"/>
<g transform="translate(980.3,89.6) rotate(-43)" fill="#333"><path d="M0,0 L5.6,-2.7 L5.6,2.7 Z"/><rect x="7" y="-2.7" width="19.5" height="5.4"/><rect x="28" y="-2.7" width="5" height="5.4"/></g>
<rect x="41" y="96" width="64" height="15" fill="#14141f"/>
<rect x="41" y="112" width="270" height="18" fill="#14141f"/>
<text x="43" y="109.8" font-family="Liberation Sans, Noto Sans CJK JP, sans-serif" font-size="15" fill="#e0e0e4">移動平均</text>
<text x="43" y="127.2" font-family="Liberation Sans, Noto Sans CJK JP, sans-serif" font-size="15" fill="#c9c93a">短期:<tspan>4,214.8</tspan></text>
<text x="134" y="127.2" font-family="Liberation Sans, Noto Sans CJK JP, sans-serif" font-size="15" fill="#d8644a">中期:<tspan>4,438.5</tspan></text>
<text x="224" y="127.2" font-family="Liberation Sans, Noto Sans CJK JP, sans-serif" font-size="15" fill="#2ec27f">長期:<tspan>4,298.8</tspan></text>
<path d="M9,113 H34 a5,5 0 0 1 5,5 V233 a5,5 0 0 1 -5,5 H9 Z" fill="#6271c1" fill-opacity="0.85"/>
<text x="0" y="0" transform="translate(17.5,144.5) rotate(90)" font-family="Liberation Sans, Noto Sans CJK JP, sans-serif" font-size="14" fill="#f0f0f4">テクニカル</text>
<text x="960" y="112.4" font-family="Liberation Sans, Noto Sans CJK JP, sans-serif" font-size="15" fill="#e6e6e6" stroke="#e6e6e6" stroke-width="0.3">5,500</text>
<text x="960" y="151.5" font-family="Liberation Sans, Noto Sans CJK JP, sans-serif" font-size="15" fill="#e6e6e6" stroke="#e6e6e6" stroke-width="0.3">5,000</text>
<text x="960" y="190.6" font-family="Liberation Sans, Noto Sans CJK JP, sans-serif" font-size="15" fill="#e6e6e6" stroke="#e6e6e6" stroke-width="0.3">4,500</text>
<text x="960" y="229.6" font-family="Liberation Sans, Noto Sans CJK JP, sans-serif" font-size="15" fill="#e6e6e6" stroke="#e6e6e6" stroke-width="0.3">4,000</text>
<text x="960" y="268.5" font-family="Liberation Sans, Noto Sans CJK JP, sans-serif" font-size="15" fill="#e6e6e6" stroke="#e6e6e6" stroke-width="0.3">3,500</text>
<text x="960" y="297.9" font-family="Liberation Sans, Noto Sans CJK JP, sans-serif" font-size="15" fill="#e6e6e6" stroke="#e6e6e6" stroke-width="0.3">3,000</text>
<path d="M954,232.5 L962,221.6 H1021 a3,3 0 0 1 3,3 V240.6 a3,3 0 0 1 -3,3 H962 Z" fill="#e8b50f"/>
<text x="960.5" y="238.8" font-family="Liberation Sans, Noto Sans CJK JP, sans-serif" font-size="14.5" fill="#2a2200" stroke="#2a2200" stroke-width="0.3">3,876.0</text>
<rect x="12" y="318.5" width="123" height="18" fill="#14141f"/>
<text x="16.5" y="333.4" font-family="Liberation Sans, Noto Sans CJK JP, sans-serif" font-size="15" fill="#e8e800">出来高:<tspan>9,087,800</tspan></text>
<text x="960.5" y="363.7" font-family="Liberation Sans, Noto Sans CJK JP, sans-serif" font-size="12" fill="#e6e6e6" stroke="#e6e6e6" stroke-width="0.3">5,000,000</text>
<text x="960.5" y="388.2" font-family="Liberation Sans, Noto Sans CJK JP, sans-serif" font-size="13" fill="#e6e6e6" stroke="#e6e6e6" stroke-width="0.3">0</text>
<rect x="14" y="392" width="170" height="17" fill="#14141f"/>
<text x="16.5" y="406.5" font-family="Liberation Sans, Noto Sans CJK JP, sans-serif" font-size="15" fill="#2cc15a" stroke="none">MACD:-83</text>
<text x="93.3" y="406.5" font-family="Liberation Sans, Noto Sans CJK JP, sans-serif" font-size="15" fill="#dca433" textLength="83.5" lengthAdjust="spacingAndGlyphs">シグナル:<tspan>-44</tspan></text>
<text x="960.5" y="453" font-family="Liberation Sans, Noto Sans CJK JP, sans-serif" font-size="15" fill="#e6e6e6" stroke="#e6e6e6" stroke-width="0.3">0</text>
<text x="58.9" y="482.8" font-family="Liberation Sans, Noto Sans CJK JP, sans-serif" font-size="15" fill="#e6e6e6" text-anchor="middle" stroke="#e6e6e6" stroke-width="0.3">11/01</text>
<text x="148.412" y="482.8" font-family="Liberation Sans, Noto Sans CJK JP, sans-serif" font-size="15" fill="#e6e6e6" text-anchor="middle" stroke="#e6e6e6" stroke-width="0.3">12/02</text>
<text x="242.3996" y="482.8" font-family="Liberation Sans, Noto Sans CJK JP, sans-serif" font-size="15" fill="#e6e6e6" text-anchor="middle" stroke="#e6e6e6" stroke-width="0.3">01/06</text>
<text x="327.436" y="482.8" font-family="Liberation Sans, Noto Sans CJK JP, sans-serif" font-size="15" fill="#e6e6e6" text-anchor="middle" stroke="#e6e6e6" stroke-width="0.3">02/03</text>
<text x="407.9968" y="482.8" font-family="Liberation Sans, Noto Sans CJK JP, sans-serif" font-size="15" fill="#e6e6e6" text-anchor="middle" stroke="#e6e6e6" stroke-width="0.3">03/03</text>
<text x="497.50879999999995" y="482.8" font-family="Liberation Sans, Noto Sans CJK JP, sans-serif" font-size="15" fill="#e6e6e6" text-anchor="middle" stroke="#e6e6e6" stroke-width="0.3">04/01</text>
<text x="591.4964" y="482.8" font-family="Liberation Sans, Noto Sans CJK JP, sans-serif" font-size="15" fill="#e6e6e6" text-anchor="middle" stroke="#e6e6e6" stroke-width="0.3">05/01</text>
<text x="681.0083999999999" y="482.8" font-family="Liberation Sans, Noto Sans CJK JP, sans-serif" font-size="15" fill="#e6e6e6" text-anchor="middle" stroke="#e6e6e6" stroke-width="0.3">06/02</text>
<text x="774.996" y="482.8" font-family="Liberation Sans, Noto Sans CJK JP, sans-serif" font-size="15" fill="#e6e6e6" text-anchor="middle" stroke="#e6e6e6" stroke-width="0.3">07/01</text>
<rect x="989.3" y="443.1" width="21" height="22" rx="2.5" fill="#7a7a7a" stroke="#aaa" stroke-width="0.8" stroke-dasharray="2 1.5"/>
<rect x="967.9" y="464.8" width="42.4" height="21.8" rx="3" fill="#c9c9c9"/>
<line x1="989.8" y1="465" x2="989.8" y2="486.5" stroke="#eee" stroke-width="0.8" stroke-dasharray="2 1.5"/>
<path d="M975.8,470 C976,461 980,453 992.5,452" stroke="#d0d0d0" stroke-width="4.6" fill="none"/>
<path d="M993,447.6 L1001.4,452.7 L993,458.2 Z" fill="#111" stroke="#d0d0d0" stroke-width="1"/>
<path d="M975.8,470 C976,461 980,453 993.5,452" stroke="#111" stroke-width="2.6" fill="none"/>
</svg>
</body></html>
